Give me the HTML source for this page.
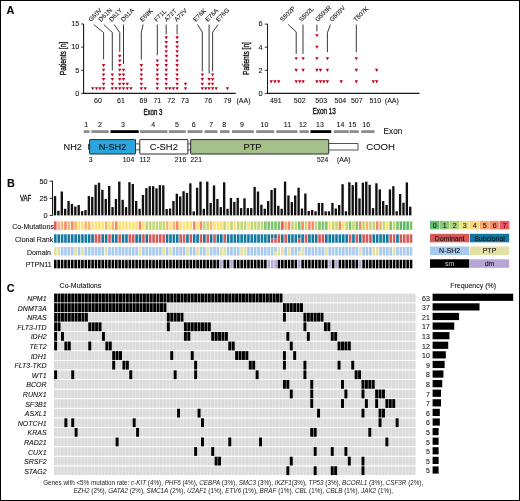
<!DOCTYPE html>
<html><head><meta charset="utf-8"><style>
html,body{margin:0;padding:0;background:#fff;}
body{width:520px;height:501px;overflow:hidden;}
svg{display:block;font-family:"Liberation Sans", sans-serif;will-change:transform;}
text{stroke:#111;stroke-width:0.08px;}
text.cd{stroke-width:0.35px;}
text.ft{stroke-width:0;fill:#222;}
</style></head><body>
<svg width="520" height="501" viewBox="0 0 520 501" fill="#111">
<rect x="0" y="0" width="520" height="501" fill="#fff"/>
<line x1="83.6" y1="23.9" x2="83.6" y2="93.9" stroke="#1a1a1a" stroke-width="1.1"/>
<line x1="83.1" y1="93.4" x2="235.8" y2="93.4" stroke="#1a1a1a" stroke-width="1.1"/>
<line x1="81.2" y1="93.4" x2="83.6" y2="93.4" stroke="#1a1a1a" stroke-width="0.9"/>
<text x="79.3" y="95.7" font-size="7.3" text-anchor="end" >0</text>
<line x1="81.2" y1="70.25" x2="83.6" y2="70.25" stroke="#1a1a1a" stroke-width="0.9"/>
<text x="79.3" y="72.55" font-size="7.3" text-anchor="end" >5</text>
<line x1="81.2" y1="47.1" x2="83.6" y2="47.1" stroke="#1a1a1a" stroke-width="0.9"/>
<text x="79.3" y="49.4" font-size="7.3" text-anchor="end" >10</text>
<line x1="81.2" y1="23.95" x2="83.6" y2="23.95" stroke="#1a1a1a" stroke-width="0.9"/>
<text x="79.3" y="26.25" font-size="7.3" text-anchor="end" >15</text>
<text transform="translate(65.6,58.5) rotate(-90)" class="cd" font-size="8.6" text-anchor="middle" textLength="33.4" lengthAdjust="spacingAndGlyphs">Patients [n]</text>
<g fill="#c8001e">
<path d="M91.05,87.27h3.4l-1.7,3.1z"/>
<path d="M94.8,87.27h3.4l-1.7,3.1z"/>
<path d="M98.4,87.27h3.4l-1.7,3.1z"/>
<path d="M101.9,87.27h3.4l-1.7,3.1z"/>
<path d="M101.9,82.64h3.4l-1.7,3.1z"/>
<path d="M101.9,78.01h3.4l-1.7,3.1z"/>
<path d="M101.9,73.38h3.4l-1.7,3.1z"/>
<path d="M101.9,68.75h3.4l-1.7,3.1z"/>
<path d="M101.9,64.12h3.4l-1.7,3.1z"/>
<path d="M110.6,87.27h3.4l-1.7,3.1z"/>
<path d="M110.6,82.64h3.4l-1.7,3.1z"/>
<path d="M110.6,78.01h3.4l-1.7,3.1z"/>
<path d="M110.6,73.38h3.4l-1.7,3.1z"/>
<path d="M114.3,87.27h3.4l-1.7,3.1z"/>
<path d="M118.05,87.27h3.4l-1.7,3.1z"/>
<path d="M118.05,82.64h3.4l-1.7,3.1z"/>
<path d="M118.05,78.01h3.4l-1.7,3.1z"/>
<path d="M118.05,73.38h3.4l-1.7,3.1z"/>
<path d="M118.05,68.75h3.4l-1.7,3.1z"/>
<path d="M118.05,64.12h3.4l-1.7,3.1z"/>
<path d="M118.05,59.49h3.4l-1.7,3.1z"/>
<path d="M118.05,54.86h3.4l-1.7,3.1z"/>
<path d="M121.8,87.27h3.4l-1.7,3.1z"/>
<path d="M121.8,82.64h3.4l-1.7,3.1z"/>
<path d="M121.8,78.01h3.4l-1.7,3.1z"/>
<path d="M121.8,73.38h3.4l-1.7,3.1z"/>
<path d="M121.8,68.75h3.4l-1.7,3.1z"/>
<path d="M125.55,87.27h3.4l-1.7,3.1z"/>
<path d="M125.55,82.64h3.4l-1.7,3.1z"/>
<path d="M129.3,87.27h3.4l-1.7,3.1z"/>
<path d="M139.6,87.27h3.4l-1.7,3.1z"/>
<path d="M139.6,82.64h3.4l-1.7,3.1z"/>
<path d="M139.6,78.01h3.4l-1.7,3.1z"/>
<path d="M139.6,73.38h3.4l-1.7,3.1z"/>
<path d="M139.6,68.75h3.4l-1.7,3.1z"/>
<path d="M139.6,64.12h3.4l-1.7,3.1z"/>
<path d="M143.5,87.27h3.4l-1.7,3.1z"/>
<path d="M155.6,87.27h3.4l-1.7,3.1z"/>
<path d="M155.6,82.64h3.4l-1.7,3.1z"/>
<path d="M155.6,78.01h3.4l-1.7,3.1z"/>
<path d="M155.6,73.38h3.4l-1.7,3.1z"/>
<path d="M155.6,68.75h3.4l-1.7,3.1z"/>
<path d="M155.6,64.12h3.4l-1.7,3.1z"/>
<path d="M155.6,59.49h3.4l-1.7,3.1z"/>
<path d="M164.5,87.27h3.4l-1.7,3.1z"/>
<path d="M164.5,82.64h3.4l-1.7,3.1z"/>
<path d="M164.5,78.01h3.4l-1.7,3.1z"/>
<path d="M164.5,73.38h3.4l-1.7,3.1z"/>
<path d="M164.5,68.75h3.4l-1.7,3.1z"/>
<path d="M164.5,64.12h3.4l-1.7,3.1z"/>
<path d="M164.5,59.49h3.4l-1.7,3.1z"/>
<path d="M164.5,54.86h3.4l-1.7,3.1z"/>
<path d="M164.5,50.23h3.4l-1.7,3.1z"/>
<path d="M164.5,45.6h3.4l-1.7,3.1z"/>
<path d="M164.5,40.97h3.4l-1.7,3.1z"/>
<path d="M164.5,36.34h3.4l-1.7,3.1z"/>
<path d="M168.1,87.27h3.4l-1.7,3.1z"/>
<path d="M171.7,87.27h3.4l-1.7,3.1z"/>
<path d="M175.4,87.27h3.4l-1.7,3.1z"/>
<path d="M175.4,82.64h3.4l-1.7,3.1z"/>
<path d="M175.4,78.01h3.4l-1.7,3.1z"/>
<path d="M175.4,73.38h3.4l-1.7,3.1z"/>
<path d="M175.4,68.75h3.4l-1.7,3.1z"/>
<path d="M175.4,64.12h3.4l-1.7,3.1z"/>
<path d="M175.4,59.49h3.4l-1.7,3.1z"/>
<path d="M175.4,54.86h3.4l-1.7,3.1z"/>
<path d="M175.4,50.23h3.4l-1.7,3.1z"/>
<path d="M175.4,45.6h3.4l-1.7,3.1z"/>
<path d="M175.4,40.97h3.4l-1.7,3.1z"/>
<path d="M175.4,36.34h3.4l-1.7,3.1z"/>
<path d="M183.8,87.27h3.4l-1.7,3.1z"/>
<path d="M183.8,82.64h3.4l-1.7,3.1z"/>
<path d="M200.6,87.27h3.4l-1.7,3.1z"/>
<path d="M200.6,82.64h3.4l-1.7,3.1z"/>
<path d="M200.6,78.01h3.4l-1.7,3.1z"/>
<path d="M200.6,73.38h3.4l-1.7,3.1z"/>
<path d="M204.1,87.27h3.4l-1.7,3.1z"/>
<path d="M207.4,87.27h3.4l-1.7,3.1z"/>
<path d="M207.4,82.64h3.4l-1.7,3.1z"/>
<path d="M207.4,78.01h3.4l-1.7,3.1z"/>
<path d="M210.9,87.27h3.4l-1.7,3.1z"/>
<path d="M210.9,82.64h3.4l-1.7,3.1z"/>
<path d="M210.9,78.01h3.4l-1.7,3.1z"/>
<path d="M210.9,73.38h3.4l-1.7,3.1z"/>
<path d="M214.5,87.27h3.4l-1.7,3.1z"/>
<path d="M225.7,87.27h3.4l-1.7,3.1z"/>
</g>
<text x="98" y="102.9" font-size="7" text-anchor="middle" >60</text>
<text x="121" y="102.9" font-size="7" text-anchor="middle" >61</text>
<text x="143.5" y="102.9" font-size="7" text-anchor="middle" >69</text>
<text x="157.3" y="102.9" font-size="7" text-anchor="middle" >71</text>
<text x="171.2" y="102.9" font-size="7" text-anchor="middle" >72</text>
<text x="185" y="102.9" font-size="7" text-anchor="middle" >73</text>
<text x="208.2" y="102.9" font-size="7" text-anchor="middle" >76</text>
<text x="227.4" y="102.9" font-size="7" text-anchor="middle" >79</text>
<text x="243.5" y="102.9" font-size="7" text-anchor="middle" >(AA)</text>
<text x="152.9" y="115.3" font-size="8.6" text-anchor="middle" class="cd" textLength="18.8" lengthAdjust="spacingAndGlyphs">Exon 3</text>
<text transform="translate(91.1,21.9) rotate(-45)" font-size="6.2">G60V</text>
<text transform="translate(101.1,21.9) rotate(-45)" font-size="6.2">D61N</text>
<text transform="translate(111.7,21.9) rotate(-45)" font-size="6.2">D61Y</text>
<text transform="translate(123.5,21.9) rotate(-45)" font-size="6.2">D61A</text>
<text transform="translate(142.4,21.9) rotate(-45)" font-size="6.2">E69K</text>
<text transform="translate(156.7,21.9) rotate(-45)" font-size="6.2">F71L</text>
<text transform="translate(166.7,21.9) rotate(-45)" font-size="6.2">A72T</text>
<text transform="translate(176.7,21.9) rotate(-45)" font-size="6.2">A72V</text>
<text transform="translate(195.7,21.9) rotate(-45)" font-size="6.2">E76K</text>
<text transform="translate(207.8,21.9) rotate(-45)" font-size="6.2">E76A</text>
<text transform="translate(218.5,21.9) rotate(-45)" font-size="6.2">E76G</text>
<text transform="translate(282.6,21.9) rotate(-45)" font-size="6.2">S502P</text>
<text transform="translate(301.6,21.9) rotate(-45)" font-size="6.2">S502L</text>
<text transform="translate(317.7,21.9) rotate(-45)" font-size="6.2">G503R</text>
<text transform="translate(332.1,21.9) rotate(-45)" font-size="6.2">G503V</text>
<text transform="translate(356.1,21.9) rotate(-45)" font-size="6.2">T507K</text>
<polyline points="93.8,24.6 103.6,32.6 103.6,59.4" fill="none" stroke="#222" stroke-width="0.9"/>
<polyline points="103.8,24.6 112.3,32.5 112.3,70.4" fill="none" stroke="#222" stroke-width="0.9"/>
<polyline points="114.2,24.6 119.75,32.5 119.75,52" fill="none" stroke="#222" stroke-width="0.9"/>
<polyline points="123.5,24.6 123.5,64" fill="none" stroke="#222" stroke-width="0.9"/>
<polyline points="143.1,24.6 141.3,32.5 141.3,59.8" fill="none" stroke="#222" stroke-width="0.9"/>
<polyline points="157.3,24.6 157.3,55.3" fill="none" stroke="#222" stroke-width="0.9"/>
<polyline points="166.2,24.6 166.2,34.4" fill="none" stroke="#222" stroke-width="0.9"/>
<polyline points="177.1,24.6 177.1,34.4" fill="none" stroke="#222" stroke-width="0.9"/>
<polyline points="197.4,24.4 202.3,32 202.3,71.4" fill="none" stroke="#222" stroke-width="0.9"/>
<polyline points="209.1,24.6 209.1,73.5" fill="none" stroke="#222" stroke-width="0.9"/>
<polyline points="218,24.6 212.6,32.3 212.6,71.4" fill="none" stroke="#222" stroke-width="0.9"/>
<line x1="267.5" y1="23.9" x2="267.5" y2="93.9" stroke="#1a1a1a" stroke-width="1"/>
<line x1="267" y1="93.4" x2="419.5" y2="93.4" stroke="#1a1a1a" stroke-width="1.1"/>
<line x1="264.8" y1="93.4" x2="267.5" y2="93.4" stroke="#1a1a1a" stroke-width="0.9"/>
<text x="262.6" y="95.7" font-size="7.3" text-anchor="end" >0</text>
<line x1="264.8" y1="70.3" x2="267.5" y2="70.3" stroke="#1a1a1a" stroke-width="0.9"/>
<text x="262.6" y="72.6" font-size="7.3" text-anchor="end" >2</text>
<line x1="264.8" y1="47.2" x2="267.5" y2="47.2" stroke="#1a1a1a" stroke-width="0.9"/>
<text x="262.6" y="49.5" font-size="7.3" text-anchor="end" >4</text>
<line x1="264.8" y1="24.1" x2="267.5" y2="24.1" stroke="#1a1a1a" stroke-width="0.9"/>
<text x="262.6" y="26.4" font-size="7.3" text-anchor="end" >6</text>
<text transform="translate(248.9,58.5) rotate(-90)" class="cd" font-size="8.6" text-anchor="middle" textLength="32.8" lengthAdjust="spacingAndGlyphs">Patients [n]</text>
<g fill="#c8001e">
<path d="M269.5,80.35h3.4l-1.7,3.1z"/>
<path d="M273.2,80.35h3.4l-1.7,3.1z"/>
<path d="M277,80.35h3.4l-1.7,3.1z"/>
<path d="M294.5,80.35h3.4l-1.7,3.1z"/>
<path d="M294.5,68.8h3.4l-1.7,3.1z"/>
<path d="M294.5,57.25h3.4l-1.7,3.1z"/>
<path d="M298,80.35h3.4l-1.7,3.1z"/>
<path d="M301.4,80.35h3.4l-1.7,3.1z"/>
<path d="M301.4,68.8h3.4l-1.7,3.1z"/>
<path d="M301.4,57.25h3.4l-1.7,3.1z"/>
<path d="M315.2,80.35h3.4l-1.7,3.1z"/>
<path d="M315.2,68.8h3.4l-1.7,3.1z"/>
<path d="M315.2,57.25h3.4l-1.7,3.1z"/>
<path d="M315.2,45.7h3.4l-1.7,3.1z"/>
<path d="M315.2,34.15h3.4l-1.7,3.1z"/>
<path d="M318.8,80.35h3.4l-1.7,3.1z"/>
<path d="M318.8,68.8h3.4l-1.7,3.1z"/>
<path d="M322.2,80.35h3.4l-1.7,3.1z"/>
<path d="M325.7,80.35h3.4l-1.7,3.1z"/>
<path d="M325.7,68.8h3.4l-1.7,3.1z"/>
<path d="M325.7,57.25h3.4l-1.7,3.1z"/>
<path d="M339.5,80.35h3.4l-1.7,3.1z"/>
<path d="M354.6,80.35h3.4l-1.7,3.1z"/>
<path d="M354.6,68.8h3.4l-1.7,3.1z"/>
<path d="M354.6,57.25h3.4l-1.7,3.1z"/>
<path d="M371.6,80.35h3.4l-1.7,3.1z"/>
<path d="M375,80.35h3.4l-1.7,3.1z"/>
<path d="M375,68.8h3.4l-1.7,3.1z"/>
</g>
<text x="275.8" y="102.9" font-size="7" text-anchor="middle" >491</text>
<text x="299.7" y="102.9" font-size="7" text-anchor="middle" >502</text>
<text x="321.2" y="102.9" font-size="7" text-anchor="middle" >503</text>
<text x="340.4" y="102.9" font-size="7" text-anchor="middle" >504</text>
<text x="356.8" y="102.9" font-size="7" text-anchor="middle" >507</text>
<text x="375.3" y="102.9" font-size="7" text-anchor="middle" >510</text>
<text x="391.8" y="102.9" font-size="7" text-anchor="middle" >(AA)</text>
<text x="324.2" y="114" font-size="8.6" text-anchor="middle" class="cd" textLength="23.5" lengthAdjust="spacingAndGlyphs">Exon 13</text>
<polyline points="288.1,24.4 296.2,31.9 296.2,53.9" fill="none" stroke="#222" stroke-width="0.9"/>
<polyline points="303,24.6 303,53.9" fill="none" stroke="#222" stroke-width="0.9"/>
<polyline points="316.9,24.6 316.9,31.3" fill="none" stroke="#222" stroke-width="0.9"/>
<polyline points="330.4,24.6 327.4,32.7 327.4,52.3" fill="none" stroke="#222" stroke-width="0.9"/>
<polyline points="356.3,24.6 356.3,52.3" fill="none" stroke="#222" stroke-width="0.9"/>
<text x="6.6" y="14" font-size="10.8" text-anchor="start" font-weight="bold" fill="#000" style="stroke:#000" >A</text>
<rect x="83.75" y="130.2" width="5.75" height="2.8" fill="#8c8c8c" />
<rect x="91.25" y="130.2" width="17.5" height="2.8" fill="#8c8c8c" />
<rect x="110.5" y="130.2" width="28.25" height="2.8" fill="#000" />
<rect x="140" y="130.2" width="27.5" height="2.8" fill="#8c8c8c" />
<rect x="168.75" y="130.2" width="17" height="2.8" fill="#8c8c8c" />
<rect x="187.5" y="130.2" width="15" height="2.8" fill="#8c8c8c" />
<rect x="204.5" y="130.2" width="13" height="2.8" fill="#8c8c8c" />
<rect x="220" y="130.2" width="9.5" height="2.8" fill="#8c8c8c" />
<rect x="232" y="130.2" width="21.75" height="2.8" fill="#8c8c8c" />
<rect x="256.25" y="130.2" width="18" height="2.8" fill="#8c8c8c" />
<rect x="276.25" y="130.2" width="21.25" height="2.8" fill="#8c8c8c" />
<rect x="299.5" y="130.2" width="9.25" height="2.8" fill="#8c8c8c" />
<rect x="310.5" y="130.2" width="20.75" height="2.8" fill="#000" />
<rect x="333.75" y="130.2" width="15" height="2.8" fill="#8c8c8c" />
<rect x="349.5" y="130.2" width="9.25" height="2.8" fill="#8c8c8c" />
<rect x="361.25" y="130.2" width="13.25" height="2.8" fill="#8c8c8c" />
<text x="86.25" y="127.3" font-size="7" text-anchor="middle" >1</text>
<text x="100" y="127.3" font-size="7" text-anchor="middle" >2</text>
<text x="123" y="127.3" font-size="7" text-anchor="middle" >3</text>
<text x="153.25" y="127.3" font-size="7" text-anchor="middle" >4</text>
<text x="177" y="127.3" font-size="7" text-anchor="middle" >5</text>
<text x="193.75" y="127.3" font-size="7" text-anchor="middle" >6</text>
<text x="211.25" y="127.3" font-size="7" text-anchor="middle" >7</text>
<text x="224.25" y="127.3" font-size="7" text-anchor="middle" >8</text>
<text x="242" y="127.3" font-size="7" text-anchor="middle" >9</text>
<text x="264.5" y="127.3" font-size="7" text-anchor="middle" >10</text>
<text x="287.5" y="127.3" font-size="7" text-anchor="middle" >11</text>
<text x="303" y="127.3" font-size="7" text-anchor="middle" >12</text>
<text x="320" y="127.3" font-size="7" text-anchor="middle" >13</text>
<text x="340.5" y="127.3" font-size="7" text-anchor="middle" >14</text>
<text x="352.5" y="127.3" font-size="7" text-anchor="middle" >15</text>
<text x="366.25" y="127.3" font-size="7" text-anchor="middle" >16</text>
<text x="383.6" y="134.1" font-size="8.2" text-anchor="start" >Exon</text>
<g fill="#fff" stroke="#2a2a2a" stroke-width="0.8">
<rect x="135" y="143.9" width="5" height="6" />
<rect x="187.5" y="143.9" width="3.5" height="6" />
<rect x="328.3" y="143.6" width="29.7" height="6.4" />
</g>
<rect x="88.1" y="143.9" width="1.6" height="5.9" fill="#3a3a3a"/>
<rect x="89.6" y="139.6" width="45.9" height="14.4" rx="0.4" fill="#2aa6df" stroke="#2a2a2a" stroke-width="1"/>
<rect x="139.8" y="139.6" width="48.1" height="14.4" rx="0.4" fill="#fff" stroke="#2a2a2a" stroke-width="1"/>
<rect x="190.7" y="139.6" width="138" height="14.4" rx="0.4" fill="#a4c08a" stroke="#2a2a2a" stroke-width="1"/>
<text x="112.5" y="150.1" font-size="9.2" text-anchor="middle" >N-SH2</text>
<text x="163.8" y="150.2" font-size="9.4" text-anchor="middle" >C-SH2</text>
<text x="252.5" y="150.3" font-size="9.4" text-anchor="middle" >PTP</text>
<text x="72.8" y="150.3" font-size="9.2" text-anchor="middle" >NH2</text>
<text x="380.6" y="150.3" font-size="9.6" text-anchor="middle" >COOH</text>
<text x="88.8" y="162" font-size="6.8" text-anchor="start" >3</text>
<text x="134.2" y="162" font-size="6.8" text-anchor="end" >104</text>
<text x="139.6" y="162" font-size="6.8" text-anchor="start" >112</text>
<text x="186.2" y="162" font-size="6.8" text-anchor="end" >216</text>
<text x="190.6" y="162" font-size="6.8" text-anchor="start" >221</text>
<text x="328.4" y="162" font-size="6.8" text-anchor="end" >524</text>
<text x="343.75" y="162" font-size="6.8" text-anchor="middle" >(AA)</text>
<text x="7" y="186.8" font-size="10.8" text-anchor="start" font-weight="bold" fill="#000" style="stroke:#000" >B</text>
<text x="25.5" y="201.1" font-size="8.6" text-anchor="middle" class="cd" textLength="11.2" lengthAdjust="spacingAndGlyphs">VAF</text>
<line x1="52.5" y1="180.7" x2="52.5" y2="215.9" stroke="#1a1a1a" stroke-width="1"/>
<line x1="49.6" y1="181.2" x2="52.5" y2="181.2" stroke="#1a1a1a" stroke-width="0.9"/>
<text x="47.6" y="183.8" font-size="7.3" text-anchor="end" >50</text>
<line x1="49.6" y1="198.3" x2="52.5" y2="198.3" stroke="#1a1a1a" stroke-width="0.9"/>
<text x="47.6" y="200.9" font-size="7.3" text-anchor="end" >25</text>
<line x1="49.6" y1="215.4" x2="52.5" y2="215.4" stroke="#1a1a1a" stroke-width="0.9"/>
<text x="47.6" y="218" font-size="7.3" text-anchor="end" >0</text>
<g fill="#111">
<rect x="53.85" y="196.1" width="2.35" height="19.3" fill="#111" />
<rect x="57.23" y="210.8" width="2.35" height="4.6" fill="#111" />
<rect x="60.62" y="191.5" width="2.35" height="23.9" fill="#111" />
<rect x="64" y="208.8" width="2.35" height="6.6" fill="#111" />
<rect x="67.38" y="201" width="2.35" height="14.4" fill="#111" />
<rect x="70.77" y="203.9" width="2.35" height="11.5" fill="#111" />
<rect x="74.15" y="206.5" width="2.35" height="8.9" fill="#111" />
<rect x="77.53" y="205" width="2.35" height="10.4" fill="#111" />
<rect x="80.91" y="211.1" width="2.35" height="4.3" fill="#111" />
<rect x="84.3" y="210" width="2.35" height="5.4" fill="#111" />
<rect x="87.68" y="196.1" width="2.35" height="19.3" fill="#111" />
<rect x="91.06" y="196.9" width="2.35" height="18.5" fill="#111" />
<rect x="94.45" y="184.8" width="2.35" height="30.6" fill="#111" />
<rect x="97.83" y="182.7" width="2.35" height="32.7" fill="#111" />
<rect x="101.21" y="189.8" width="2.35" height="25.6" fill="#111" />
<rect x="104.59" y="198.9" width="2.35" height="16.5" fill="#111" />
<rect x="107.98" y="186" width="2.35" height="29.4" fill="#111" />
<rect x="111.36" y="207.1" width="2.35" height="8.3" fill="#111" />
<rect x="114.74" y="199" width="2.35" height="16.4" fill="#111" />
<rect x="118.13" y="181.6" width="2.35" height="33.8" fill="#111" />
<rect x="121.51" y="199.8" width="2.35" height="15.6" fill="#111" />
<rect x="124.89" y="207.1" width="2.35" height="8.3" fill="#111" />
<rect x="128.28" y="182.2" width="2.35" height="33.2" fill="#111" />
<rect x="131.66" y="184" width="2.35" height="31.4" fill="#111" />
<rect x="135.04" y="201" width="2.35" height="14.4" fill="#111" />
<rect x="138.43" y="208.8" width="2.35" height="6.6" fill="#111" />
<rect x="141.81" y="195" width="2.35" height="20.4" fill="#111" />
<rect x="145.19" y="188.1" width="2.35" height="27.3" fill="#111" />
<rect x="148.57" y="186.2" width="2.35" height="29.2" fill="#111" />
<rect x="151.96" y="186.2" width="2.35" height="29.2" fill="#111" />
<rect x="155.34" y="188.3" width="2.35" height="27.1" fill="#111" />
<rect x="158.72" y="185.1" width="2.35" height="30.3" fill="#111" />
<rect x="162.11" y="185.4" width="2.35" height="30" fill="#111" />
<rect x="165.49" y="209" width="2.35" height="6.4" fill="#111" />
<rect x="168.87" y="208.5" width="2.35" height="6.9" fill="#111" />
<rect x="172.25" y="201" width="2.35" height="14.4" fill="#111" />
<rect x="175.64" y="193.7" width="2.35" height="21.7" fill="#111" />
<rect x="179.02" y="196.4" width="2.35" height="19" fill="#111" />
<rect x="182.4" y="191.2" width="2.35" height="24.2" fill="#111" />
<rect x="185.79" y="192.9" width="2.35" height="22.5" fill="#111" />
<rect x="189.17" y="183.3" width="2.35" height="32.1" fill="#111" />
<rect x="192.55" y="211.4" width="2.35" height="4" fill="#111" />
<rect x="195.94" y="187.7" width="2.35" height="27.7" fill="#111" />
<rect x="199.32" y="181.6" width="2.35" height="33.8" fill="#111" />
<rect x="202.7" y="208.8" width="2.35" height="6.6" fill="#111" />
<rect x="206.09" y="181.6" width="2.35" height="33.8" fill="#111" />
<rect x="209.47" y="203" width="2.35" height="12.4" fill="#111" />
<rect x="212.85" y="185.4" width="2.35" height="30" fill="#111" />
<rect x="216.23" y="199" width="2.35" height="16.4" fill="#111" />
<rect x="219.62" y="207.1" width="2.35" height="8.3" fill="#111" />
<rect x="223" y="182.3" width="2.35" height="33.1" fill="#111" />
<rect x="226.38" y="208.8" width="2.35" height="6.6" fill="#111" />
<rect x="229.77" y="197.9" width="2.35" height="17.5" fill="#111" />
<rect x="233.15" y="201.9" width="2.35" height="13.5" fill="#111" />
<rect x="236.53" y="197.9" width="2.35" height="17.5" fill="#111" />
<rect x="239.91" y="208.1" width="2.35" height="7.3" fill="#111" />
<rect x="243.3" y="198.3" width="2.35" height="17.1" fill="#111" />
<rect x="246.68" y="208.1" width="2.35" height="7.3" fill="#111" />
<rect x="250.06" y="208.1" width="2.35" height="7.3" fill="#111" />
<rect x="253.45" y="186.9" width="2.35" height="28.5" fill="#111" />
<rect x="256.83" y="191.5" width="2.35" height="23.9" fill="#111" />
<rect x="260.21" y="204.7" width="2.35" height="10.7" fill="#111" />
<rect x="263.6" y="208.7" width="2.35" height="6.7" fill="#111" />
<rect x="266.98" y="201" width="2.35" height="14.4" fill="#111" />
<rect x="270.36" y="190" width="2.35" height="25.4" fill="#111" />
<rect x="273.75" y="188.1" width="2.35" height="27.3" fill="#111" />
<rect x="277.13" y="205.8" width="2.35" height="9.6" fill="#111" />
<rect x="280.51" y="208.8" width="2.35" height="6.6" fill="#111" />
<rect x="283.89" y="181.6" width="2.35" height="33.8" fill="#111" />
<rect x="287.28" y="195.5" width="2.35" height="19.9" fill="#111" />
<rect x="290.66" y="202.1" width="2.35" height="13.3" fill="#111" />
<rect x="294.04" y="195.5" width="2.35" height="19.9" fill="#111" />
<rect x="297.43" y="187.7" width="2.35" height="27.7" fill="#111" />
<rect x="300.81" y="208.5" width="2.35" height="6.9" fill="#111" />
<rect x="304.19" y="193.5" width="2.35" height="21.9" fill="#111" />
<rect x="307.57" y="211" width="2.35" height="4.4" fill="#111" />
<rect x="310.96" y="210" width="2.35" height="5.4" fill="#111" />
<rect x="314.34" y="211.3" width="2.35" height="4.1" fill="#111" />
<rect x="317.72" y="202.9" width="2.35" height="12.5" fill="#111" />
<rect x="321.11" y="202.9" width="2.35" height="12.5" fill="#111" />
<rect x="324.49" y="211.3" width="2.35" height="4.1" fill="#111" />
<rect x="327.87" y="211.3" width="2.35" height="4.1" fill="#111" />
<rect x="331.26" y="202.9" width="2.35" height="12.5" fill="#111" />
<rect x="334.64" y="208.5" width="2.35" height="6.9" fill="#111" />
<rect x="338.02" y="205" width="2.35" height="10.4" fill="#111" />
<rect x="341.41" y="184.2" width="2.35" height="31.2" fill="#111" />
<rect x="344.79" y="211.3" width="2.35" height="4.1" fill="#111" />
<rect x="348.17" y="182.3" width="2.35" height="33.1" fill="#111" />
<rect x="351.55" y="185.1" width="2.35" height="30.3" fill="#111" />
<rect x="354.94" y="182.3" width="2.35" height="33.1" fill="#111" />
<rect x="358.32" y="198.4" width="2.35" height="17" fill="#111" />
<rect x="361.7" y="182.7" width="2.35" height="32.7" fill="#111" />
<rect x="365.09" y="181.6" width="2.35" height="33.8" fill="#111" />
<rect x="368.47" y="184.8" width="2.35" height="30.6" fill="#111" />
<rect x="371.85" y="208.1" width="2.35" height="7.3" fill="#111" />
<rect x="375.24" y="183.3" width="2.35" height="32.1" fill="#111" />
<rect x="378.62" y="189.4" width="2.35" height="26" fill="#111" />
<rect x="382" y="201" width="2.35" height="14.4" fill="#111" />
<rect x="385.38" y="205" width="2.35" height="10.4" fill="#111" />
<rect x="388.77" y="189.4" width="2.35" height="26" fill="#111" />
<rect x="392.15" y="186.2" width="2.35" height="29.2" fill="#111" />
<rect x="395.53" y="211.3" width="2.35" height="4.1" fill="#111" />
<rect x="398.92" y="194" width="2.35" height="21.4" fill="#111" />
<rect x="402.3" y="202.7" width="2.35" height="12.7" fill="#111" />
<rect x="405.68" y="182.4" width="2.35" height="33" fill="#111" />
<rect x="409.06" y="206.7" width="2.35" height="8.7" fill="#111" />
</g>
<rect x="54" y="221.4" width="2.6" height="8.5" fill="#ee5660" />
<rect x="54" y="234.3" width="2.6" height="8.5" fill="#13789f" />
<rect x="54" y="247" width="2.6" height="8.5" fill="#e1e0a5" />
<rect x="54" y="259.8" width="2.6" height="8.5" fill="#000" />
<rect x="57.39" y="221.4" width="2.6" height="8.5" fill="#fbb46f" />
<rect x="57.39" y="234.3" width="2.6" height="8.5" fill="#13789f" />
<rect x="57.39" y="247" width="2.6" height="8.5" fill="#e1e0a5" />
<rect x="57.39" y="259.8" width="2.6" height="8.5" fill="#000" />
<rect x="60.78" y="221.4" width="2.6" height="8.5" fill="#fbb46f" />
<rect x="60.78" y="234.3" width="2.6" height="8.5" fill="#13789f" />
<rect x="60.78" y="247" width="2.6" height="8.5" fill="#a7c9ee" />
<rect x="60.78" y="259.8" width="2.6" height="8.5" fill="#000" />
<rect x="64.16" y="221.4" width="2.6" height="8.5" fill="#f58a6b" />
<rect x="64.16" y="234.3" width="2.6" height="8.5" fill="#13789f" />
<rect x="64.16" y="247" width="2.6" height="8.5" fill="#a7c9ee" />
<rect x="64.16" y="259.8" width="2.6" height="8.5" fill="#000" />
<rect x="67.55" y="221.4" width="2.6" height="8.5" fill="#fbb46f" />
<rect x="67.55" y="234.3" width="2.6" height="8.5" fill="#13789f" />
<rect x="67.55" y="247" width="2.6" height="8.5" fill="#a7c9ee" />
<rect x="67.55" y="259.8" width="2.6" height="8.5" fill="#000" />
<rect x="70.94" y="221.4" width="2.6" height="8.5" fill="#f58a6b" />
<rect x="70.94" y="234.3" width="2.6" height="8.5" fill="#13789f" />
<rect x="70.94" y="247" width="2.6" height="8.5" fill="#a7c9ee" />
<rect x="70.94" y="259.8" width="2.6" height="8.5" fill="#000" />
<rect x="74.33" y="221.4" width="2.6" height="8.5" fill="#fbb46f" />
<rect x="74.33" y="234.3" width="2.6" height="8.5" fill="#13789f" />
<rect x="74.33" y="247" width="2.6" height="8.5" fill="#e1e0a5" />
<rect x="74.33" y="259.8" width="2.6" height="8.5" fill="#000" />
<rect x="77.72" y="221.4" width="2.6" height="8.5" fill="#fde275" />
<rect x="77.72" y="234.3" width="2.6" height="8.5" fill="#13789f" />
<rect x="77.72" y="247" width="2.6" height="8.5" fill="#a7c9ee" />
<rect x="77.72" y="259.8" width="2.6" height="8.5" fill="#000" />
<rect x="81.1" y="221.4" width="2.6" height="8.5" fill="#fde275" />
<rect x="81.1" y="234.3" width="2.6" height="8.5" fill="#13789f" />
<rect x="81.1" y="247" width="2.6" height="8.5" fill="#e1e0a5" />
<rect x="81.1" y="259.8" width="2.6" height="8.5" fill="#000" />
<rect x="84.49" y="221.4" width="2.6" height="8.5" fill="#fbb46f" />
<rect x="84.49" y="234.3" width="2.6" height="8.5" fill="#13789f" />
<rect x="84.49" y="247" width="2.6" height="8.5" fill="#a7c9ee" />
<rect x="84.49" y="259.8" width="2.6" height="8.5" fill="#000" />
<rect x="87.88" y="221.4" width="2.6" height="8.5" fill="#fbb46f" />
<rect x="87.88" y="234.3" width="2.6" height="8.5" fill="#13789f" />
<rect x="87.88" y="247" width="2.6" height="8.5" fill="#a7c9ee" />
<rect x="87.88" y="259.8" width="2.6" height="8.5" fill="#000" />
<rect x="91.27" y="221.4" width="2.6" height="8.5" fill="#fde275" />
<rect x="91.27" y="234.3" width="2.6" height="8.5" fill="#13789f" />
<rect x="91.27" y="247" width="2.6" height="8.5" fill="#a7c9ee" />
<rect x="91.27" y="259.8" width="2.6" height="8.5" fill="#000" />
<rect x="94.66" y="221.4" width="2.6" height="8.5" fill="#fde275" />
<rect x="94.66" y="234.3" width="2.6" height="8.5" fill="#d65a58" />
<rect x="94.66" y="247" width="2.6" height="8.5" fill="#a7c9ee" />
<rect x="94.66" y="259.8" width="2.6" height="8.5" fill="#000" />
<rect x="98.04" y="221.4" width="2.6" height="8.5" fill="#fde275" />
<rect x="98.04" y="234.3" width="2.6" height="8.5" fill="#d65a58" />
<rect x="98.04" y="247" width="2.6" height="8.5" fill="#a7c9ee" />
<rect x="98.04" y="259.8" width="2.6" height="8.5" fill="#000" />
<rect x="101.43" y="221.4" width="2.6" height="8.5" fill="#fde275" />
<rect x="101.43" y="234.3" width="2.6" height="8.5" fill="#13789f" />
<rect x="101.43" y="247" width="2.6" height="8.5" fill="#a7c9ee" />
<rect x="101.43" y="259.8" width="2.6" height="8.5" fill="#000" />
<rect x="104.82" y="221.4" width="2.6" height="8.5" fill="#fbb46f" />
<rect x="104.82" y="234.3" width="2.6" height="8.5" fill="#13789f" />
<rect x="104.82" y="247" width="2.6" height="8.5" fill="#e1e0a5" />
<rect x="104.82" y="259.8" width="2.6" height="8.5" fill="#000" />
<rect x="108.21" y="221.4" width="2.6" height="8.5" fill="#fde275" />
<rect x="108.21" y="234.3" width="2.6" height="8.5" fill="#d65a58" />
<rect x="108.21" y="247" width="2.6" height="8.5" fill="#a7c9ee" />
<rect x="108.21" y="259.8" width="2.6" height="8.5" fill="#000" />
<rect x="111.6" y="221.4" width="2.6" height="8.5" fill="#fbb46f" />
<rect x="111.6" y="234.3" width="2.6" height="8.5" fill="#13789f" />
<rect x="111.6" y="247" width="2.6" height="8.5" fill="#a7c9ee" />
<rect x="111.6" y="259.8" width="2.6" height="8.5" fill="#000" />
<rect x="114.98" y="221.4" width="2.6" height="8.5" fill="#f58a6b" />
<rect x="114.98" y="234.3" width="2.6" height="8.5" fill="#13789f" />
<rect x="114.98" y="247" width="2.6" height="8.5" fill="#a7c9ee" />
<rect x="114.98" y="259.8" width="2.6" height="8.5" fill="#000" />
<rect x="118.37" y="221.4" width="2.6" height="8.5" fill="#fde275" />
<rect x="118.37" y="234.3" width="2.6" height="8.5" fill="#d65a58" />
<rect x="118.37" y="247" width="2.6" height="8.5" fill="#a7c9ee" />
<rect x="118.37" y="259.8" width="2.6" height="8.5" fill="#000" />
<rect x="121.76" y="221.4" width="2.6" height="8.5" fill="#fde275" />
<rect x="121.76" y="234.3" width="2.6" height="8.5" fill="#13789f" />
<rect x="121.76" y="247" width="2.6" height="8.5" fill="#a7c9ee" />
<rect x="121.76" y="259.8" width="2.6" height="8.5" fill="#000" />
<rect x="125.15" y="221.4" width="2.6" height="8.5" fill="#fde275" />
<rect x="125.15" y="234.3" width="2.6" height="8.5" fill="#13789f" />
<rect x="125.15" y="247" width="2.6" height="8.5" fill="#a7c9ee" />
<rect x="125.15" y="259.8" width="2.6" height="8.5" fill="#000" />
<rect x="128.54" y="221.4" width="2.6" height="8.5" fill="#fde275" />
<rect x="128.54" y="234.3" width="2.6" height="8.5" fill="#d65a58" />
<rect x="128.54" y="247" width="2.6" height="8.5" fill="#a7c9ee" />
<rect x="128.54" y="259.8" width="2.6" height="8.5" fill="#000" />
<rect x="131.92" y="221.4" width="2.6" height="8.5" fill="#fde275" />
<rect x="131.92" y="234.3" width="2.6" height="8.5" fill="#d65a58" />
<rect x="131.92" y="247" width="2.6" height="8.5" fill="#a7c9ee" />
<rect x="131.92" y="259.8" width="2.6" height="8.5" fill="#000" />
<rect x="135.31" y="221.4" width="2.6" height="8.5" fill="#fde275" />
<rect x="135.31" y="234.3" width="2.6" height="8.5" fill="#13789f" />
<rect x="135.31" y="247" width="2.6" height="8.5" fill="#a7c9ee" />
<rect x="135.31" y="259.8" width="2.6" height="8.5" fill="#000" />
<rect x="138.7" y="221.4" width="2.6" height="8.5" fill="#f58a6b" />
<rect x="138.7" y="234.3" width="2.6" height="8.5" fill="#13789f" />
<rect x="138.7" y="247" width="2.6" height="8.5" fill="#e1e0a5" />
<rect x="138.7" y="259.8" width="2.6" height="8.5" fill="#000" />
<rect x="142.09" y="221.4" width="2.6" height="8.5" fill="#fde275" />
<rect x="142.09" y="234.3" width="2.6" height="8.5" fill="#d65a58" />
<rect x="142.09" y="247" width="2.6" height="8.5" fill="#a7c9ee" />
<rect x="142.09" y="259.8" width="2.6" height="8.5" fill="#000" />
<rect x="145.48" y="221.4" width="2.6" height="8.5" fill="#c3d774" />
<rect x="145.48" y="234.3" width="2.6" height="8.5" fill="#13789f" />
<rect x="145.48" y="247" width="2.6" height="8.5" fill="#a7c9ee" />
<rect x="145.48" y="259.8" width="2.6" height="8.5" fill="#000" />
<rect x="148.86" y="221.4" width="2.6" height="8.5" fill="#c3d774" />
<rect x="148.86" y="234.3" width="2.6" height="8.5" fill="#d65a58" />
<rect x="148.86" y="247" width="2.6" height="8.5" fill="#a7c9ee" />
<rect x="148.86" y="259.8" width="2.6" height="8.5" fill="#000" />
<rect x="152.25" y="221.4" width="2.6" height="8.5" fill="#c3d774" />
<rect x="152.25" y="234.3" width="2.6" height="8.5" fill="#d65a58" />
<rect x="152.25" y="247" width="2.6" height="8.5" fill="#a7c9ee" />
<rect x="152.25" y="259.8" width="2.6" height="8.5" fill="#000" />
<rect x="155.64" y="221.4" width="2.6" height="8.5" fill="#c3d774" />
<rect x="155.64" y="234.3" width="2.6" height="8.5" fill="#d65a58" />
<rect x="155.64" y="247" width="2.6" height="8.5" fill="#a7c9ee" />
<rect x="155.64" y="259.8" width="2.6" height="8.5" fill="#000" />
<rect x="159.03" y="221.4" width="2.6" height="8.5" fill="#c3d774" />
<rect x="159.03" y="234.3" width="2.6" height="8.5" fill="#d65a58" />
<rect x="159.03" y="247" width="2.6" height="8.5" fill="#a7c9ee" />
<rect x="159.03" y="259.8" width="2.6" height="8.5" fill="#000" />
<rect x="162.42" y="221.4" width="2.6" height="8.5" fill="#c3d774" />
<rect x="162.42" y="234.3" width="2.6" height="8.5" fill="#d65a58" />
<rect x="162.42" y="247" width="2.6" height="8.5" fill="#e1e0a5" />
<rect x="162.42" y="259.8" width="2.6" height="8.5" fill="#000" />
<rect x="165.8" y="221.4" width="2.6" height="8.5" fill="#fbb46f" />
<rect x="165.8" y="234.3" width="2.6" height="8.5" fill="#13789f" />
<rect x="165.8" y="247" width="2.6" height="8.5" fill="#a7c9ee" />
<rect x="165.8" y="259.8" width="2.6" height="8.5" fill="#000" />
<rect x="169.19" y="221.4" width="2.6" height="8.5" fill="#fde275" />
<rect x="169.19" y="234.3" width="2.6" height="8.5" fill="#13789f" />
<rect x="169.19" y="247" width="2.6" height="8.5" fill="#e1e0a5" />
<rect x="169.19" y="259.8" width="2.6" height="8.5" fill="#000" />
<rect x="172.58" y="221.4" width="2.6" height="8.5" fill="#fbb46f" />
<rect x="172.58" y="234.3" width="2.6" height="8.5" fill="#13789f" />
<rect x="172.58" y="247" width="2.6" height="8.5" fill="#a7c9ee" />
<rect x="172.58" y="259.8" width="2.6" height="8.5" fill="#000" />
<rect x="175.97" y="221.4" width="2.6" height="8.5" fill="#f58a6b" />
<rect x="175.97" y="234.3" width="2.6" height="8.5" fill="#13789f" />
<rect x="175.97" y="247" width="2.6" height="8.5" fill="#a7c9ee" />
<rect x="175.97" y="259.8" width="2.6" height="8.5" fill="#000" />
<rect x="179.36" y="221.4" width="2.6" height="8.5" fill="#fde275" />
<rect x="179.36" y="234.3" width="2.6" height="8.5" fill="#d65a58" />
<rect x="179.36" y="247" width="2.6" height="8.5" fill="#a7c9ee" />
<rect x="179.36" y="259.8" width="2.6" height="8.5" fill="#000" />
<rect x="182.74" y="221.4" width="2.6" height="8.5" fill="#fde275" />
<rect x="182.74" y="234.3" width="2.6" height="8.5" fill="#d65a58" />
<rect x="182.74" y="247" width="2.6" height="8.5" fill="#a7c9ee" />
<rect x="182.74" y="259.8" width="2.6" height="8.5" fill="#000" />
<rect x="186.13" y="221.4" width="2.6" height="8.5" fill="#fde275" />
<rect x="186.13" y="234.3" width="2.6" height="8.5" fill="#13789f" />
<rect x="186.13" y="247" width="2.6" height="8.5" fill="#e1e0a5" />
<rect x="186.13" y="259.8" width="2.6" height="8.5" fill="#000" />
<rect x="189.52" y="221.4" width="2.6" height="8.5" fill="#fde275" />
<rect x="189.52" y="234.3" width="2.6" height="8.5" fill="#d65a58" />
<rect x="189.52" y="247" width="2.6" height="8.5" fill="#a7c9ee" />
<rect x="189.52" y="259.8" width="2.6" height="8.5" fill="#000" />
<rect x="192.91" y="221.4" width="2.6" height="8.5" fill="#f58a6b" />
<rect x="192.91" y="234.3" width="2.6" height="8.5" fill="#13789f" />
<rect x="192.91" y="247" width="2.6" height="8.5" fill="#a7c9ee" />
<rect x="192.91" y="259.8" width="2.6" height="8.5" fill="#000" />
<rect x="196.3" y="221.4" width="2.6" height="8.5" fill="#fde275" />
<rect x="196.3" y="234.3" width="2.6" height="8.5" fill="#13789f" />
<rect x="196.3" y="247" width="2.6" height="8.5" fill="#e1e0a5" />
<rect x="196.3" y="259.8" width="2.6" height="8.5" fill="#000" />
<rect x="199.68" y="221.4" width="2.6" height="8.5" fill="#f58a6b" />
<rect x="199.68" y="234.3" width="2.6" height="8.5" fill="#d65a58" />
<rect x="199.68" y="247" width="2.6" height="8.5" fill="#a7c9ee" />
<rect x="199.68" y="259.8" width="2.6" height="8.5" fill="#000" />
<rect x="203.07" y="221.4" width="2.6" height="8.5" fill="#c3d774" />
<rect x="203.07" y="234.3" width="2.6" height="8.5" fill="#13789f" />
<rect x="203.07" y="247" width="2.6" height="8.5" fill="#a7c9ee" />
<rect x="203.07" y="259.8" width="2.6" height="8.5" fill="#000" />
<rect x="206.46" y="221.4" width="2.6" height="8.5" fill="#c3d774" />
<rect x="206.46" y="234.3" width="2.6" height="8.5" fill="#d65a58" />
<rect x="206.46" y="247" width="2.6" height="8.5" fill="#e1e0a5" />
<rect x="206.46" y="259.8" width="2.6" height="8.5" fill="#000" />
<rect x="209.85" y="221.4" width="2.6" height="8.5" fill="#fbb46f" />
<rect x="209.85" y="234.3" width="2.6" height="8.5" fill="#13789f" />
<rect x="209.85" y="247" width="2.6" height="8.5" fill="#a7c9ee" />
<rect x="209.85" y="259.8" width="2.6" height="8.5" fill="#000" />
<rect x="213.24" y="221.4" width="2.6" height="8.5" fill="#fde275" />
<rect x="213.24" y="234.3" width="2.6" height="8.5" fill="#d65a58" />
<rect x="213.24" y="247" width="2.6" height="8.5" fill="#a7c9ee" />
<rect x="213.24" y="259.8" width="2.6" height="8.5" fill="#000" />
<rect x="216.62" y="221.4" width="2.6" height="8.5" fill="#fde275" />
<rect x="216.62" y="234.3" width="2.6" height="8.5" fill="#13789f" />
<rect x="216.62" y="247" width="2.6" height="8.5" fill="#a7c9ee" />
<rect x="216.62" y="259.8" width="2.6" height="8.5" fill="#000" />
<rect x="220.01" y="221.4" width="2.6" height="8.5" fill="#fde275" />
<rect x="220.01" y="234.3" width="2.6" height="8.5" fill="#13789f" />
<rect x="220.01" y="247" width="2.6" height="8.5" fill="#e1e0a5" />
<rect x="220.01" y="259.8" width="2.6" height="8.5" fill="#b6a5d5" />
<rect x="223.4" y="221.4" width="2.6" height="8.5" fill="#c3d774" />
<rect x="223.4" y="234.3" width="2.6" height="8.5" fill="#d65a58" />
<rect x="223.4" y="247" width="2.6" height="8.5" fill="#e1e0a5" />
<rect x="223.4" y="259.8" width="2.6" height="8.5" fill="#000" />
<rect x="226.79" y="221.4" width="2.6" height="8.5" fill="#fde275" />
<rect x="226.79" y="234.3" width="2.6" height="8.5" fill="#13789f" />
<rect x="226.79" y="247" width="2.6" height="8.5" fill="#a7c9ee" />
<rect x="226.79" y="259.8" width="2.6" height="8.5" fill="#000" />
<rect x="230.18" y="221.4" width="2.6" height="8.5" fill="#c3d774" />
<rect x="230.18" y="234.3" width="2.6" height="8.5" fill="#13789f" />
<rect x="230.18" y="247" width="2.6" height="8.5" fill="#a7c9ee" />
<rect x="230.18" y="259.8" width="2.6" height="8.5" fill="#b6a5d5" />
<rect x="233.56" y="221.4" width="2.6" height="8.5" fill="#fde275" />
<rect x="233.56" y="234.3" width="2.6" height="8.5" fill="#13789f" />
<rect x="233.56" y="247" width="2.6" height="8.5" fill="#a7c9ee" />
<rect x="233.56" y="259.8" width="2.6" height="8.5" fill="#000" />
<rect x="236.95" y="221.4" width="2.6" height="8.5" fill="#c3d774" />
<rect x="236.95" y="234.3" width="2.6" height="8.5" fill="#13789f" />
<rect x="236.95" y="247" width="2.6" height="8.5" fill="#a7c9ee" />
<rect x="236.95" y="259.8" width="2.6" height="8.5" fill="#000" />
<rect x="240.34" y="221.4" width="2.6" height="8.5" fill="#c3d774" />
<rect x="240.34" y="234.3" width="2.6" height="8.5" fill="#13789f" />
<rect x="240.34" y="247" width="2.6" height="8.5" fill="#e1e0a5" />
<rect x="240.34" y="259.8" width="2.6" height="8.5" fill="#000" />
<rect x="243.73" y="221.4" width="2.6" height="8.5" fill="#c3d774" />
<rect x="243.73" y="234.3" width="2.6" height="8.5" fill="#13789f" />
<rect x="243.73" y="247" width="2.6" height="8.5" fill="#e1e0a5" />
<rect x="243.73" y="259.8" width="2.6" height="8.5" fill="#000" />
<rect x="247.12" y="221.4" width="2.6" height="8.5" fill="#fde275" />
<rect x="247.12" y="234.3" width="2.6" height="8.5" fill="#13789f" />
<rect x="247.12" y="247" width="2.6" height="8.5" fill="#a7c9ee" />
<rect x="247.12" y="259.8" width="2.6" height="8.5" fill="#000" />
<rect x="250.5" y="221.4" width="2.6" height="8.5" fill="#c3d774" />
<rect x="250.5" y="234.3" width="2.6" height="8.5" fill="#13789f" />
<rect x="250.5" y="247" width="2.6" height="8.5" fill="#a7c9ee" />
<rect x="250.5" y="259.8" width="2.6" height="8.5" fill="#000" />
<rect x="253.89" y="221.4" width="2.6" height="8.5" fill="#c3d774" />
<rect x="253.89" y="234.3" width="2.6" height="8.5" fill="#13789f" />
<rect x="253.89" y="247" width="2.6" height="8.5" fill="#a7c9ee" />
<rect x="253.89" y="259.8" width="2.6" height="8.5" fill="#000" />
<rect x="257.28" y="221.4" width="2.6" height="8.5" fill="#c3d774" />
<rect x="257.28" y="234.3" width="2.6" height="8.5" fill="#13789f" />
<rect x="257.28" y="247" width="2.6" height="8.5" fill="#a7c9ee" />
<rect x="257.28" y="259.8" width="2.6" height="8.5" fill="#000" />
<rect x="260.67" y="221.4" width="2.6" height="8.5" fill="#c3d774" />
<rect x="260.67" y="234.3" width="2.6" height="8.5" fill="#13789f" />
<rect x="260.67" y="247" width="2.6" height="8.5" fill="#a7c9ee" />
<rect x="260.67" y="259.8" width="2.6" height="8.5" fill="#000" />
<rect x="264.06" y="221.4" width="2.6" height="8.5" fill="#7ec46b" />
<rect x="264.06" y="234.3" width="2.6" height="8.5" fill="#13789f" />
<rect x="264.06" y="247" width="2.6" height="8.5" fill="#a7c9ee" />
<rect x="264.06" y="259.8" width="2.6" height="8.5" fill="#000" />
<rect x="267.44" y="221.4" width="2.6" height="8.5" fill="#7ec46b" />
<rect x="267.44" y="234.3" width="2.6" height="8.5" fill="#13789f" />
<rect x="267.44" y="247" width="2.6" height="8.5" fill="#a7c9ee" />
<rect x="267.44" y="259.8" width="2.6" height="8.5" fill="#b6a5d5" />
<rect x="270.83" y="221.4" width="2.6" height="8.5" fill="#7ec46b" />
<rect x="270.83" y="234.3" width="2.6" height="4.25" fill="#13789f" />
<rect x="270.83" y="238.55" width="2.6" height="4.25" fill="#d65a58" />
<rect x="270.83" y="247" width="2.6" height="8.5" fill="#a7c9ee" />
<rect x="270.83" y="259.8" width="2.6" height="8.5" fill="#b6a5d5" />
<rect x="274.22" y="221.4" width="2.6" height="8.5" fill="#7ec46b" />
<rect x="274.22" y="234.3" width="2.6" height="4.25" fill="#13789f" />
<rect x="274.22" y="238.55" width="2.6" height="4.25" fill="#d65a58" />
<rect x="274.22" y="247" width="2.6" height="4.25" fill="#a7c9ee" />
<rect x="274.22" y="251.25" width="2.6" height="4.25" fill="#e1e0a5" />
<rect x="274.22" y="259.8" width="2.6" height="8.5" fill="#b6a5d5" />
<rect x="277.61" y="221.4" width="2.6" height="8.5" fill="#7ec46b" />
<rect x="277.61" y="234.3" width="2.6" height="8.5" fill="#d65a58" />
<rect x="277.61" y="247" width="2.6" height="8.5" fill="#e1e0a5" />
<rect x="277.61" y="259.8" width="2.6" height="8.5" fill="#000" />
<rect x="281" y="221.4" width="2.6" height="8.5" fill="#ee5660" />
<rect x="281" y="234.3" width="2.6" height="8.5" fill="#13789f" />
<rect x="281" y="247" width="2.6" height="8.5" fill="#e1e0a5" />
<rect x="281" y="259.8" width="2.6" height="8.5" fill="#000" />
<rect x="284.38" y="221.4" width="2.6" height="8.5" fill="#fbb46f" />
<rect x="284.38" y="234.3" width="2.6" height="8.5" fill="#d65a58" />
<rect x="284.38" y="247" width="2.6" height="8.5" fill="#a7c9ee" />
<rect x="284.38" y="259.8" width="2.6" height="8.5" fill="#000" />
<rect x="287.77" y="221.4" width="2.6" height="8.5" fill="#f58a6b" />
<rect x="287.77" y="234.3" width="2.6" height="8.5" fill="#13789f" />
<rect x="287.77" y="247" width="2.6" height="8.5" fill="#e1e0a5" />
<rect x="287.77" y="259.8" width="2.6" height="8.5" fill="#000" />
<rect x="291.16" y="221.4" width="2.6" height="8.5" fill="#c3d774" />
<rect x="291.16" y="234.3" width="2.6" height="8.5" fill="#13789f" />
<rect x="291.16" y="247" width="2.6" height="8.5" fill="#a7c9ee" />
<rect x="291.16" y="259.8" width="2.6" height="8.5" fill="#000" />
<rect x="294.55" y="221.4" width="2.6" height="8.5" fill="#c3d774" />
<rect x="294.55" y="234.3" width="2.6" height="8.5" fill="#13789f" />
<rect x="294.55" y="247" width="2.6" height="8.5" fill="#a7c9ee" />
<rect x="294.55" y="259.8" width="2.6" height="8.5" fill="#000" />
<rect x="297.94" y="221.4" width="2.6" height="8.5" fill="#7ec46b" />
<rect x="297.94" y="234.3" width="2.6" height="4.25" fill="#13789f" />
<rect x="297.94" y="238.55" width="2.6" height="4.25" fill="#d65a58" />
<rect x="297.94" y="247" width="2.6" height="4.25" fill="#a7c9ee" />
<rect x="297.94" y="251.25" width="2.6" height="4.25" fill="#e1e0a5" />
<rect x="297.94" y="259.8" width="2.6" height="8.5" fill="#b6a5d5" />
<rect x="301.32" y="221.4" width="2.6" height="8.5" fill="#f58a6b" />
<rect x="301.32" y="234.3" width="2.6" height="8.5" fill="#13789f" />
<rect x="301.32" y="247" width="2.6" height="8.5" fill="#e1e0a5" />
<rect x="301.32" y="259.8" width="2.6" height="8.5" fill="#000" />
<rect x="304.71" y="221.4" width="2.6" height="8.5" fill="#c3d774" />
<rect x="304.71" y="234.3" width="2.6" height="8.5" fill="#d65a58" />
<rect x="304.71" y="247" width="2.6" height="8.5" fill="#a7c9ee" />
<rect x="304.71" y="259.8" width="2.6" height="8.5" fill="#000" />
<rect x="308.1" y="221.4" width="2.6" height="8.5" fill="#f58a6b" />
<rect x="308.1" y="234.3" width="2.6" height="8.5" fill="#13789f" />
<rect x="308.1" y="247" width="2.6" height="8.5" fill="#a7c9ee" />
<rect x="308.1" y="259.8" width="2.6" height="8.5" fill="#000" />
<rect x="311.49" y="221.4" width="2.6" height="8.5" fill="#f58a6b" />
<rect x="311.49" y="234.3" width="2.6" height="8.5" fill="#13789f" />
<rect x="311.49" y="247" width="2.6" height="8.5" fill="#a7c9ee" />
<rect x="311.49" y="259.8" width="2.6" height="8.5" fill="#000" />
<rect x="314.88" y="221.4" width="2.6" height="8.5" fill="#c3d774" />
<rect x="314.88" y="234.3" width="2.6" height="8.5" fill="#13789f" />
<rect x="314.88" y="247" width="2.6" height="8.5" fill="#a7c9ee" />
<rect x="314.88" y="259.8" width="2.6" height="8.5" fill="#000" />
<rect x="318.26" y="221.4" width="2.6" height="8.5" fill="#7ec46b" />
<rect x="318.26" y="234.3" width="2.6" height="8.5" fill="#d65a58" />
<rect x="318.26" y="247" width="2.6" height="8.5" fill="#a7c9ee" />
<rect x="318.26" y="259.8" width="2.6" height="8.5" fill="#000" />
<rect x="321.65" y="221.4" width="2.6" height="8.5" fill="#7ec46b" />
<rect x="321.65" y="234.3" width="2.6" height="8.5" fill="#d65a58" />
<rect x="321.65" y="247" width="2.6" height="8.5" fill="#a7c9ee" />
<rect x="321.65" y="259.8" width="2.6" height="8.5" fill="#000" />
<rect x="325.04" y="221.4" width="2.6" height="8.5" fill="#7ec46b" />
<rect x="325.04" y="234.3" width="2.6" height="8.5" fill="#13789f" />
<rect x="325.04" y="247" width="2.6" height="8.5" fill="#e1e0a5" />
<rect x="325.04" y="259.8" width="2.6" height="8.5" fill="#000" />
<rect x="328.43" y="221.4" width="2.6" height="8.5" fill="#fde275" />
<rect x="328.43" y="234.3" width="2.6" height="8.5" fill="#13789f" />
<rect x="328.43" y="247" width="2.6" height="8.5" fill="#a7c9ee" />
<rect x="328.43" y="259.8" width="2.6" height="8.5" fill="#b6a5d5" />
<rect x="331.82" y="221.4" width="2.6" height="8.5" fill="#c3d774" />
<rect x="331.82" y="234.3" width="2.6" height="8.5" fill="#13789f" />
<rect x="331.82" y="247" width="2.6" height="8.5" fill="#a7c9ee" />
<rect x="331.82" y="259.8" width="2.6" height="8.5" fill="#000" />
<rect x="335.2" y="221.4" width="2.6" height="8.5" fill="#c3d774" />
<rect x="335.2" y="234.3" width="2.6" height="8.5" fill="#13789f" />
<rect x="335.2" y="247" width="2.6" height="8.5" fill="#a7c9ee" />
<rect x="335.2" y="259.8" width="2.6" height="8.5" fill="#b6a5d5" />
<rect x="338.59" y="221.4" width="2.6" height="8.5" fill="#f58a6b" />
<rect x="338.59" y="234.3" width="2.6" height="8.5" fill="#13789f" />
<rect x="338.59" y="247" width="2.6" height="8.5" fill="#a7c9ee" />
<rect x="338.59" y="259.8" width="2.6" height="8.5" fill="#000" />
<rect x="341.98" y="221.4" width="2.6" height="8.5" fill="#fde275" />
<rect x="341.98" y="234.3" width="2.6" height="8.5" fill="#13789f" />
<rect x="341.98" y="247" width="2.6" height="8.5" fill="#a7c9ee" />
<rect x="341.98" y="259.8" width="2.6" height="8.5" fill="#000" />
<rect x="345.37" y="221.4" width="2.6" height="8.5" fill="#c3d774" />
<rect x="345.37" y="234.3" width="2.6" height="8.5" fill="#13789f" />
<rect x="345.37" y="247" width="2.6" height="8.5" fill="#a7c9ee" />
<rect x="345.37" y="259.8" width="2.6" height="8.5" fill="#000" />
<rect x="348.76" y="221.4" width="2.6" height="8.5" fill="#7ec46b" />
<rect x="348.76" y="234.3" width="2.6" height="8.5" fill="#d65a58" />
<rect x="348.76" y="247" width="2.6" height="8.5" fill="#a7c9ee" />
<rect x="348.76" y="259.8" width="2.6" height="8.5" fill="#000" />
<rect x="352.14" y="221.4" width="2.6" height="8.5" fill="#c3d774" />
<rect x="352.14" y="234.3" width="2.6" height="8.5" fill="#13789f" />
<rect x="352.14" y="247" width="2.6" height="8.5" fill="#a7c9ee" />
<rect x="352.14" y="259.8" width="2.6" height="8.5" fill="#000" />
<rect x="355.53" y="221.4" width="2.6" height="8.5" fill="#7ec46b" />
<rect x="355.53" y="234.3" width="2.6" height="8.5" fill="#d65a58" />
<rect x="355.53" y="247" width="2.6" height="8.5" fill="#a7c9ee" />
<rect x="355.53" y="259.8" width="2.6" height="8.5" fill="#000" />
<rect x="358.92" y="221.4" width="2.6" height="8.5" fill="#f58a6b" />
<rect x="358.92" y="234.3" width="2.6" height="8.5" fill="#13789f" />
<rect x="358.92" y="247" width="2.6" height="8.5" fill="#e1e0a5" />
<rect x="358.92" y="259.8" width="2.6" height="8.5" fill="#b6a5d5" />
<rect x="362.31" y="221.4" width="2.6" height="8.5" fill="#c3d774" />
<rect x="362.31" y="234.3" width="2.6" height="8.5" fill="#d65a58" />
<rect x="362.31" y="247" width="2.6" height="8.5" fill="#a7c9ee" />
<rect x="362.31" y="259.8" width="2.6" height="8.5" fill="#000" />
<rect x="365.7" y="221.4" width="2.6" height="8.5" fill="#fbb46f" />
<rect x="365.7" y="234.3" width="2.6" height="8.5" fill="#d65a58" />
<rect x="365.7" y="247" width="2.6" height="8.5" fill="#a7c9ee" />
<rect x="365.7" y="259.8" width="2.6" height="8.5" fill="#000" />
<rect x="369.08" y="221.4" width="2.6" height="8.5" fill="#c3d774" />
<rect x="369.08" y="234.3" width="2.6" height="8.5" fill="#d65a58" />
<rect x="369.08" y="247" width="2.6" height="8.5" fill="#a7c9ee" />
<rect x="369.08" y="259.8" width="2.6" height="8.5" fill="#000" />
<rect x="372.47" y="221.4" width="2.6" height="8.5" fill="#c3d774" />
<rect x="372.47" y="234.3" width="2.6" height="8.5" fill="#13789f" />
<rect x="372.47" y="247" width="2.6" height="8.5" fill="#e1e0a5" />
<rect x="372.47" y="259.8" width="2.6" height="8.5" fill="#000" />
<rect x="375.86" y="221.4" width="2.6" height="8.5" fill="#f58a6b" />
<rect x="375.86" y="234.3" width="2.6" height="8.5" fill="#13789f" />
<rect x="375.86" y="247" width="2.6" height="8.5" fill="#e1e0a5" />
<rect x="375.86" y="259.8" width="2.6" height="8.5" fill="#000" />
<rect x="379.25" y="221.4" width="2.6" height="8.5" fill="#fbb46f" />
<rect x="379.25" y="234.3" width="2.6" height="8.5" fill="#13789f" />
<rect x="379.25" y="247" width="2.6" height="8.5" fill="#a7c9ee" />
<rect x="379.25" y="259.8" width="2.6" height="8.5" fill="#000" />
<rect x="382.64" y="221.4" width="2.6" height="8.5" fill="#c3d774" />
<rect x="382.64" y="234.3" width="2.6" height="8.5" fill="#13789f" />
<rect x="382.64" y="247" width="2.6" height="8.5" fill="#a7c9ee" />
<rect x="382.64" y="259.8" width="2.6" height="8.5" fill="#000" />
<rect x="386.02" y="221.4" width="2.6" height="8.5" fill="#fde275" />
<rect x="386.02" y="234.3" width="2.6" height="8.5" fill="#13789f" />
<rect x="386.02" y="247" width="2.6" height="8.5" fill="#a7c9ee" />
<rect x="386.02" y="259.8" width="2.6" height="8.5" fill="#000" />
<rect x="389.41" y="221.4" width="2.6" height="8.5" fill="#7ec46b" />
<rect x="389.41" y="234.3" width="2.6" height="8.5" fill="#d65a58" />
<rect x="389.41" y="247" width="2.6" height="8.5" fill="#a7c9ee" />
<rect x="389.41" y="259.8" width="2.6" height="8.5" fill="#000" />
<rect x="392.8" y="221.4" width="2.6" height="8.5" fill="#c3d774" />
<rect x="392.8" y="234.3" width="2.6" height="8.5" fill="#d65a58" />
<rect x="392.8" y="247" width="2.6" height="8.5" fill="#e1e0a5" />
<rect x="392.8" y="259.8" width="2.6" height="8.5" fill="#000" />
<rect x="396.19" y="221.4" width="2.6" height="8.5" fill="#7ec46b" />
<rect x="396.19" y="234.3" width="2.6" height="8.5" fill="#13789f" />
<rect x="396.19" y="247" width="2.6" height="8.5" fill="#a7c9ee" />
<rect x="396.19" y="259.8" width="2.6" height="8.5" fill="#000" />
<rect x="399.58" y="221.4" width="2.6" height="8.5" fill="#5fb865" />
<rect x="399.58" y="234.3" width="2.6" height="8.5" fill="#d65a58" />
<rect x="399.58" y="247" width="2.6" height="8.5" fill="#a7c9ee" />
<rect x="399.58" y="259.8" width="2.6" height="8.5" fill="#000" />
<rect x="402.96" y="221.4" width="2.6" height="8.5" fill="#5fb865" />
<rect x="402.96" y="234.3" width="2.6" height="8.5" fill="#d65a58" />
<rect x="402.96" y="247" width="2.6" height="8.5" fill="#a7c9ee" />
<rect x="402.96" y="259.8" width="2.6" height="8.5" fill="#000" />
<rect x="406.35" y="221.4" width="2.6" height="8.5" fill="#5fb865" />
<rect x="406.35" y="234.3" width="2.6" height="8.5" fill="#d65a58" />
<rect x="406.35" y="247" width="2.6" height="8.5" fill="#a7c9ee" />
<rect x="406.35" y="259.8" width="2.6" height="8.5" fill="#000" />
<rect x="409.74" y="221.4" width="2.6" height="8.5" fill="#7ec46b" />
<rect x="409.74" y="234.3" width="2.6" height="8.5" fill="#d65a58" />
<rect x="409.74" y="247" width="2.6" height="8.5" fill="#a7c9ee" />
<rect x="409.74" y="259.8" width="2.6" height="8.5" fill="#000" />
<text x="53.9" y="229.05" font-size="7" text-anchor="end" >Co-Mutations</text>
<text x="53.2" y="241.95" font-size="7" text-anchor="end" >Clonal Rank</text>
<text x="51" y="254.65" font-size="7" text-anchor="end" >Domain</text>
<text x="51.6" y="267.45" font-size="7" text-anchor="end" >PTPN11</text>
<rect x="430" y="220.9" width="9.45" height="8.5" fill="#64ba6e" />
<text x="434.72" y="227.75" font-size="7" text-anchor="middle" >0</text>
<rect x="439.98" y="220.9" width="9.45" height="8.5" fill="#8ec87a" />
<text x="444.7" y="227.75" font-size="7" text-anchor="middle" >1</text>
<rect x="449.96" y="220.9" width="9.45" height="8.5" fill="#b5d37d" />
<text x="454.68" y="227.75" font-size="7" text-anchor="middle" >2</text>
<rect x="459.94" y="220.9" width="9.45" height="8.5" fill="#ebe482" />
<text x="464.66" y="227.75" font-size="7" text-anchor="middle" >3</text>
<rect x="469.92" y="220.9" width="9.45" height="8.5" fill="#fdd384" />
<text x="474.64" y="227.75" font-size="7" text-anchor="middle" >4</text>
<rect x="479.9" y="220.9" width="9.45" height="8.5" fill="#f9a870" />
<text x="484.62" y="227.75" font-size="7" text-anchor="middle" >5</text>
<rect x="489.88" y="220.9" width="9.45" height="8.5" fill="#f58a6e" />
<text x="494.6" y="227.75" font-size="7" text-anchor="middle" >6</text>
<rect x="499.86" y="220.9" width="9.45" height="8.5" fill="#ef5560" />
<text x="504.58" y="227.75" font-size="7" text-anchor="middle" >7</text>
<rect x="430" y="233.8" width="39.3" height="8.5" fill="#d65a58" />
<rect x="469.9" y="233.8" width="39.3" height="8.5" fill="#13789f" />
<text x="449.6" y="240.65" font-size="7" text-anchor="middle" >Dominant</text>
<text x="489.5" y="240.65" font-size="7" text-anchor="middle" >Subclonal</text>
<rect x="430" y="246.5" width="39.3" height="8.5" fill="#a7c9ee" />
<rect x="469.9" y="246.5" width="39.3" height="8.5" fill="#e1e0a5" />
<text x="449.6" y="253.35" font-size="7" text-anchor="middle" >N-SH2</text>
<text x="489.5" y="253.35" font-size="7" text-anchor="middle" >PTP</text>
<rect x="430" y="259.3" width="39.3" height="8.5" fill="#000" />
<rect x="469.9" y="259.3" width="39.3" height="8.5" fill="#b6a5d5" />
<text x="449.6" y="266.15" font-size="7" text-anchor="middle" fill="#bbb" style="stroke:#bbb" >sm</text>
<text x="489.5" y="266.15" font-size="7" text-anchor="middle" >dm</text>
<text x="6.8" y="292.2" font-size="10.8" text-anchor="start" font-weight="bold" fill="#000" style="stroke:#000" >C</text>
<text x="59.6" y="288.1" font-size="7" text-anchor="start" >Co-Mutations</text>
<text x="473.1" y="287.9" font-size="7" text-anchor="middle" >Frequency (%)</text>
<rect x="54" y="293.6" width="361.53" height="8.8" fill="#dcdbdb" />
<rect x="54" y="303.19" width="361.53" height="8.8" fill="#dcdbdb" />
<rect x="54" y="312.79" width="361.53" height="8.8" fill="#dcdbdb" />
<rect x="54" y="322.38" width="361.53" height="8.8" fill="#dcdbdb" />
<rect x="54" y="331.98" width="361.53" height="8.8" fill="#dcdbdb" />
<rect x="54" y="341.57" width="361.53" height="8.8" fill="#dcdbdb" />
<rect x="54" y="351.16" width="361.53" height="8.8" fill="#dcdbdb" />
<rect x="54" y="360.76" width="361.53" height="8.8" fill="#dcdbdb" />
<rect x="54" y="370.35" width="361.53" height="8.8" fill="#dcdbdb" />
<rect x="54" y="379.95" width="361.53" height="8.8" fill="#dcdbdb" />
<rect x="54" y="389.54" width="361.53" height="8.8" fill="#dcdbdb" />
<rect x="54" y="399.13" width="361.53" height="8.8" fill="#dcdbdb" />
<rect x="54" y="408.73" width="361.53" height="8.8" fill="#dcdbdb" />
<rect x="54" y="418.32" width="361.53" height="8.8" fill="#dcdbdb" />
<rect x="54" y="427.92" width="361.53" height="8.8" fill="#dcdbdb" />
<rect x="54" y="437.51" width="361.53" height="8.8" fill="#dcdbdb" />
<rect x="54" y="447.1" width="361.53" height="8.8" fill="#dcdbdb" />
<rect x="54" y="456.7" width="361.53" height="8.8" fill="#dcdbdb" />
<rect x="54" y="466.29" width="361.53" height="8.8" fill="#dcdbdb" />
<g fill="#f4f4f4">
<rect x="56.95" y="293.6" width="0.46" height="181.49"/>
<rect x="60.36" y="293.6" width="0.46" height="181.49"/>
<rect x="63.78" y="293.6" width="0.46" height="181.49"/>
<rect x="67.19" y="293.6" width="0.46" height="181.49"/>
<rect x="70.61" y="293.6" width="0.46" height="181.49"/>
<rect x="74.03" y="293.6" width="0.46" height="181.49"/>
<rect x="77.44" y="293.6" width="0.46" height="181.49"/>
<rect x="80.85" y="293.6" width="0.46" height="181.49"/>
<rect x="84.27" y="293.6" width="0.46" height="181.49"/>
<rect x="87.69" y="293.6" width="0.46" height="181.49"/>
<rect x="91.1" y="293.6" width="0.46" height="181.49"/>
<rect x="94.52" y="293.6" width="0.46" height="181.49"/>
<rect x="97.93" y="293.6" width="0.46" height="181.49"/>
<rect x="101.34" y="293.6" width="0.46" height="181.49"/>
<rect x="104.76" y="293.6" width="0.46" height="181.49"/>
<rect x="108.17" y="293.6" width="0.46" height="181.49"/>
<rect x="111.59" y="293.6" width="0.46" height="181.49"/>
<rect x="115" y="293.6" width="0.46" height="181.49"/>
<rect x="118.42" y="293.6" width="0.46" height="181.49"/>
<rect x="121.83" y="293.6" width="0.46" height="181.49"/>
<rect x="125.25" y="293.6" width="0.46" height="181.49"/>
<rect x="128.66" y="293.6" width="0.46" height="181.49"/>
<rect x="132.08" y="293.6" width="0.46" height="181.49"/>
<rect x="135.5" y="293.6" width="0.46" height="181.49"/>
<rect x="138.91" y="293.6" width="0.46" height="181.49"/>
<rect x="142.33" y="293.6" width="0.46" height="181.49"/>
<rect x="145.74" y="293.6" width="0.46" height="181.49"/>
<rect x="149.16" y="293.6" width="0.46" height="181.49"/>
<rect x="152.57" y="293.6" width="0.46" height="181.49"/>
<rect x="155.98" y="293.6" width="0.46" height="181.49"/>
<rect x="159.4" y="293.6" width="0.46" height="181.49"/>
<rect x="162.81" y="293.6" width="0.46" height="181.49"/>
<rect x="166.23" y="293.6" width="0.46" height="181.49"/>
<rect x="169.65" y="293.6" width="0.46" height="181.49"/>
<rect x="173.06" y="293.6" width="0.46" height="181.49"/>
<rect x="176.47" y="293.6" width="0.46" height="181.49"/>
<rect x="179.89" y="293.6" width="0.46" height="181.49"/>
<rect x="183.31" y="293.6" width="0.46" height="181.49"/>
<rect x="186.72" y="293.6" width="0.46" height="181.49"/>
<rect x="190.13" y="293.6" width="0.46" height="181.49"/>
<rect x="193.55" y="293.6" width="0.46" height="181.49"/>
<rect x="196.97" y="293.6" width="0.46" height="181.49"/>
<rect x="200.38" y="293.6" width="0.46" height="181.49"/>
<rect x="203.79" y="293.6" width="0.46" height="181.49"/>
<rect x="207.21" y="293.6" width="0.46" height="181.49"/>
<rect x="210.62" y="293.6" width="0.46" height="181.49"/>
<rect x="214.04" y="293.6" width="0.46" height="181.49"/>
<rect x="217.46" y="293.6" width="0.46" height="181.49"/>
<rect x="220.87" y="293.6" width="0.46" height="181.49"/>
<rect x="224.28" y="293.6" width="0.46" height="181.49"/>
<rect x="227.7" y="293.6" width="0.46" height="181.49"/>
<rect x="231.12" y="293.6" width="0.46" height="181.49"/>
<rect x="234.53" y="293.6" width="0.46" height="181.49"/>
<rect x="237.94" y="293.6" width="0.46" height="181.49"/>
<rect x="241.36" y="293.6" width="0.46" height="181.49"/>
<rect x="244.78" y="293.6" width="0.46" height="181.49"/>
<rect x="248.19" y="293.6" width="0.46" height="181.49"/>
<rect x="251.6" y="293.6" width="0.46" height="181.49"/>
<rect x="255.02" y="293.6" width="0.46" height="181.49"/>
<rect x="258.44" y="293.6" width="0.46" height="181.49"/>
<rect x="261.85" y="293.6" width="0.46" height="181.49"/>
<rect x="265.27" y="293.6" width="0.46" height="181.49"/>
<rect x="268.68" y="293.6" width="0.46" height="181.49"/>
<rect x="272.1" y="293.6" width="0.46" height="181.49"/>
<rect x="275.51" y="293.6" width="0.46" height="181.49"/>
<rect x="278.93" y="293.6" width="0.46" height="181.49"/>
<rect x="282.34" y="293.6" width="0.46" height="181.49"/>
<rect x="285.76" y="293.6" width="0.46" height="181.49"/>
<rect x="289.17" y="293.6" width="0.46" height="181.49"/>
<rect x="292.59" y="293.6" width="0.46" height="181.49"/>
<rect x="296" y="293.6" width="0.46" height="181.49"/>
<rect x="299.42" y="293.6" width="0.46" height="181.49"/>
<rect x="302.83" y="293.6" width="0.46" height="181.49"/>
<rect x="306.25" y="293.6" width="0.46" height="181.49"/>
<rect x="309.66" y="293.6" width="0.46" height="181.49"/>
<rect x="313.08" y="293.6" width="0.46" height="181.49"/>
<rect x="316.49" y="293.6" width="0.46" height="181.49"/>
<rect x="319.91" y="293.6" width="0.46" height="181.49"/>
<rect x="323.32" y="293.6" width="0.46" height="181.49"/>
<rect x="326.74" y="293.6" width="0.46" height="181.49"/>
<rect x="330.15" y="293.6" width="0.46" height="181.49"/>
<rect x="333.57" y="293.6" width="0.46" height="181.49"/>
<rect x="336.98" y="293.6" width="0.46" height="181.49"/>
<rect x="340.4" y="293.6" width="0.46" height="181.49"/>
<rect x="343.81" y="293.6" width="0.46" height="181.49"/>
<rect x="347.23" y="293.6" width="0.46" height="181.49"/>
<rect x="350.64" y="293.6" width="0.46" height="181.49"/>
<rect x="354.06" y="293.6" width="0.46" height="181.49"/>
<rect x="357.47" y="293.6" width="0.46" height="181.49"/>
<rect x="360.89" y="293.6" width="0.46" height="181.49"/>
<rect x="364.3" y="293.6" width="0.46" height="181.49"/>
<rect x="367.72" y="293.6" width="0.46" height="181.49"/>
<rect x="371.13" y="293.6" width="0.46" height="181.49"/>
<rect x="374.55" y="293.6" width="0.46" height="181.49"/>
<rect x="377.96" y="293.6" width="0.46" height="181.49"/>
<rect x="381.38" y="293.6" width="0.46" height="181.49"/>
<rect x="384.79" y="293.6" width="0.46" height="181.49"/>
<rect x="388.21" y="293.6" width="0.46" height="181.49"/>
<rect x="391.62" y="293.6" width="0.46" height="181.49"/>
<rect x="395.04" y="293.6" width="0.46" height="181.49"/>
<rect x="398.45" y="293.6" width="0.46" height="181.49"/>
<rect x="401.87" y="293.6" width="0.46" height="181.49"/>
<rect x="405.28" y="293.6" width="0.46" height="181.49"/>
<rect x="408.7" y="293.6" width="0.46" height="181.49"/>
<rect x="412.11" y="293.6" width="0.46" height="181.49"/>
</g>
<g fill="#fff">
<rect x="54" y="302.4" width="361.99" height="0.79"/>
<rect x="54" y="311.99" width="361.99" height="0.79"/>
<rect x="54" y="321.59" width="361.99" height="0.79"/>
<rect x="54" y="331.18" width="361.99" height="0.79"/>
<rect x="54" y="340.78" width="361.99" height="0.79"/>
<rect x="54" y="350.37" width="361.99" height="0.79"/>
<rect x="54" y="359.96" width="361.99" height="0.79"/>
<rect x="54" y="369.56" width="361.99" height="0.79"/>
<rect x="54" y="379.15" width="361.99" height="0.79"/>
<rect x="54" y="388.75" width="361.99" height="0.79"/>
<rect x="54" y="398.34" width="361.99" height="0.79"/>
<rect x="54" y="407.93" width="361.99" height="0.79"/>
<rect x="54" y="417.53" width="361.99" height="0.79"/>
<rect x="54" y="427.12" width="361.99" height="0.79"/>
<rect x="54" y="436.72" width="361.99" height="0.79"/>
<rect x="54" y="446.31" width="361.99" height="0.79"/>
<rect x="54" y="455.9" width="361.99" height="0.79"/>
<rect x="54" y="465.5" width="361.99" height="0.79"/>
</g>
<g fill="#000">
<rect x="54.15" y="293.6" width="2.95" height="8.8"/>
<rect x="57.56" y="293.6" width="2.95" height="8.8"/>
<rect x="60.98" y="293.6" width="2.95" height="8.8"/>
<rect x="64.4" y="293.6" width="2.95" height="8.8"/>
<rect x="67.81" y="293.6" width="2.95" height="8.8"/>
<rect x="71.23" y="293.6" width="2.95" height="8.8"/>
<rect x="74.64" y="293.6" width="2.95" height="8.8"/>
<rect x="78.06" y="293.6" width="2.95" height="8.8"/>
<rect x="81.47" y="293.6" width="2.95" height="8.8"/>
<rect x="84.89" y="293.6" width="2.95" height="8.8"/>
<rect x="88.3" y="293.6" width="2.95" height="8.8"/>
<rect x="91.72" y="293.6" width="2.95" height="8.8"/>
<rect x="95.13" y="293.6" width="2.95" height="8.8"/>
<rect x="98.55" y="293.6" width="2.95" height="8.8"/>
<rect x="101.96" y="293.6" width="2.95" height="8.8"/>
<rect x="105.38" y="293.6" width="2.95" height="8.8"/>
<rect x="108.79" y="293.6" width="2.95" height="8.8"/>
<rect x="112.21" y="293.6" width="2.95" height="8.8"/>
<rect x="115.62" y="293.6" width="2.95" height="8.8"/>
<rect x="119.04" y="293.6" width="2.95" height="8.8"/>
<rect x="122.45" y="293.6" width="2.95" height="8.8"/>
<rect x="125.87" y="293.6" width="2.95" height="8.8"/>
<rect x="129.28" y="293.6" width="2.95" height="8.8"/>
<rect x="132.7" y="293.6" width="2.95" height="8.8"/>
<rect x="136.11" y="293.6" width="2.95" height="8.8"/>
<rect x="139.53" y="293.6" width="2.95" height="8.8"/>
<rect x="142.94" y="293.6" width="2.95" height="8.8"/>
<rect x="146.35" y="293.6" width="2.95" height="8.8"/>
<rect x="149.77" y="293.6" width="2.95" height="8.8"/>
<rect x="153.19" y="293.6" width="2.95" height="8.8"/>
<rect x="156.6" y="293.6" width="2.95" height="8.8"/>
<rect x="160.02" y="293.6" width="2.95" height="8.8"/>
<rect x="163.43" y="293.6" width="2.95" height="8.8"/>
<rect x="166.84" y="293.6" width="2.95" height="8.8"/>
<rect x="170.26" y="293.6" width="2.95" height="8.8"/>
<rect x="173.68" y="293.6" width="2.95" height="8.8"/>
<rect x="177.09" y="293.6" width="2.95" height="8.8"/>
<rect x="180.51" y="293.6" width="2.95" height="8.8"/>
<rect x="183.92" y="293.6" width="2.95" height="8.8"/>
<rect x="187.34" y="293.6" width="2.95" height="8.8"/>
<rect x="190.75" y="293.6" width="2.95" height="8.8"/>
<rect x="194.17" y="293.6" width="2.95" height="8.8"/>
<rect x="197.58" y="293.6" width="2.95" height="8.8"/>
<rect x="201" y="293.6" width="2.95" height="8.8"/>
<rect x="204.41" y="293.6" width="2.95" height="8.8"/>
<rect x="207.83" y="293.6" width="2.95" height="8.8"/>
<rect x="211.24" y="293.6" width="2.95" height="8.8"/>
<rect x="214.66" y="293.6" width="2.95" height="8.8"/>
<rect x="218.07" y="293.6" width="2.95" height="8.8"/>
<rect x="221.49" y="293.6" width="2.95" height="8.8"/>
<rect x="224.9" y="293.6" width="2.95" height="8.8"/>
<rect x="228.31" y="293.6" width="2.95" height="8.8"/>
<rect x="231.73" y="293.6" width="2.95" height="8.8"/>
<rect x="235.15" y="293.6" width="2.95" height="8.8"/>
<rect x="238.56" y="293.6" width="2.95" height="8.8"/>
<rect x="241.97" y="293.6" width="2.95" height="8.8"/>
<rect x="245.39" y="293.6" width="2.95" height="8.8"/>
<rect x="248.81" y="293.6" width="2.95" height="8.8"/>
<rect x="252.22" y="293.6" width="2.95" height="8.8"/>
<rect x="255.64" y="293.6" width="2.95" height="8.8"/>
<rect x="259.05" y="293.6" width="2.95" height="8.8"/>
<rect x="262.46" y="293.6" width="2.95" height="8.8"/>
<rect x="265.88" y="293.6" width="2.95" height="8.8"/>
<rect x="269.29" y="293.6" width="2.95" height="8.8"/>
<rect x="272.71" y="293.6" width="2.95" height="8.8"/>
<rect x="276.12" y="293.6" width="2.95" height="8.8"/>
<rect x="279.54" y="293.6" width="2.95" height="8.8"/>
<rect x="54.15" y="303.19" width="2.95" height="8.8"/>
<rect x="57.56" y="303.19" width="2.95" height="8.8"/>
<rect x="60.98" y="303.19" width="2.95" height="8.8"/>
<rect x="64.4" y="303.19" width="2.95" height="8.8"/>
<rect x="67.81" y="303.19" width="2.95" height="8.8"/>
<rect x="71.23" y="303.19" width="2.95" height="8.8"/>
<rect x="74.64" y="303.19" width="2.95" height="8.8"/>
<rect x="78.06" y="303.19" width="2.95" height="8.8"/>
<rect x="81.47" y="303.19" width="2.95" height="8.8"/>
<rect x="84.89" y="303.19" width="2.95" height="8.8"/>
<rect x="88.3" y="303.19" width="2.95" height="8.8"/>
<rect x="91.72" y="303.19" width="2.95" height="8.8"/>
<rect x="95.13" y="303.19" width="2.95" height="8.8"/>
<rect x="98.55" y="303.19" width="2.95" height="8.8"/>
<rect x="101.96" y="303.19" width="2.95" height="8.8"/>
<rect x="105.38" y="303.19" width="2.95" height="8.8"/>
<rect x="108.79" y="303.19" width="2.95" height="8.8"/>
<rect x="112.21" y="303.19" width="2.95" height="8.8"/>
<rect x="115.62" y="303.19" width="2.95" height="8.8"/>
<rect x="119.04" y="303.19" width="2.95" height="8.8"/>
<rect x="122.45" y="303.19" width="2.95" height="8.8"/>
<rect x="125.87" y="303.19" width="2.95" height="8.8"/>
<rect x="129.28" y="303.19" width="2.95" height="8.8"/>
<rect x="132.7" y="303.19" width="2.95" height="8.8"/>
<rect x="136.11" y="303.19" width="2.95" height="8.8"/>
<rect x="139.53" y="303.19" width="2.95" height="8.8"/>
<rect x="142.94" y="303.19" width="2.95" height="8.8"/>
<rect x="146.35" y="303.19" width="2.95" height="8.8"/>
<rect x="149.77" y="303.19" width="2.95" height="8.8"/>
<rect x="153.19" y="303.19" width="2.95" height="8.8"/>
<rect x="156.6" y="303.19" width="2.95" height="8.8"/>
<rect x="160.02" y="303.19" width="2.95" height="8.8"/>
<rect x="163.43" y="303.19" width="2.95" height="8.8"/>
<rect x="282.95" y="303.19" width="2.95" height="8.8"/>
<rect x="286.37" y="303.19" width="2.95" height="8.8"/>
<rect x="289.78" y="303.19" width="2.95" height="8.8"/>
<rect x="293.2" y="303.19" width="2.95" height="8.8"/>
<rect x="296.62" y="303.19" width="2.95" height="8.8"/>
<rect x="300.03" y="303.19" width="2.95" height="8.8"/>
<rect x="54.15" y="312.79" width="2.95" height="8.8"/>
<rect x="57.56" y="312.79" width="2.95" height="8.8"/>
<rect x="60.98" y="312.79" width="2.95" height="8.8"/>
<rect x="64.4" y="312.79" width="2.95" height="8.8"/>
<rect x="67.81" y="312.79" width="2.95" height="8.8"/>
<rect x="71.23" y="312.79" width="2.95" height="8.8"/>
<rect x="74.64" y="312.79" width="2.95" height="8.8"/>
<rect x="78.06" y="312.79" width="2.95" height="8.8"/>
<rect x="81.47" y="312.79" width="2.95" height="8.8"/>
<rect x="84.89" y="312.79" width="2.95" height="8.8"/>
<rect x="166.84" y="312.79" width="2.95" height="8.8"/>
<rect x="170.26" y="312.79" width="2.95" height="8.8"/>
<rect x="173.68" y="312.79" width="2.95" height="8.8"/>
<rect x="177.09" y="312.79" width="2.95" height="8.8"/>
<rect x="180.51" y="312.79" width="2.95" height="8.8"/>
<rect x="282.95" y="312.79" width="2.95" height="8.8"/>
<rect x="303.44" y="312.79" width="2.95" height="8.8"/>
<rect x="306.86" y="312.79" width="2.95" height="8.8"/>
<rect x="310.27" y="312.79" width="2.95" height="8.8"/>
<rect x="313.69" y="312.79" width="2.95" height="8.8"/>
<rect x="317.1" y="312.79" width="2.95" height="8.8"/>
<rect x="320.52" y="312.79" width="2.95" height="8.8"/>
<rect x="54.15" y="322.38" width="2.95" height="8.8"/>
<rect x="57.56" y="322.38" width="2.95" height="8.8"/>
<rect x="88.3" y="322.38" width="2.95" height="8.8"/>
<rect x="91.72" y="322.38" width="2.95" height="8.8"/>
<rect x="95.13" y="322.38" width="2.95" height="8.8"/>
<rect x="98.55" y="322.38" width="2.95" height="8.8"/>
<rect x="166.84" y="322.38" width="2.95" height="8.8"/>
<rect x="183.92" y="322.38" width="2.95" height="8.8"/>
<rect x="187.34" y="322.38" width="2.95" height="8.8"/>
<rect x="190.75" y="322.38" width="2.95" height="8.8"/>
<rect x="194.17" y="322.38" width="2.95" height="8.8"/>
<rect x="197.58" y="322.38" width="2.95" height="8.8"/>
<rect x="201" y="322.38" width="2.95" height="8.8"/>
<rect x="204.41" y="322.38" width="2.95" height="8.8"/>
<rect x="207.83" y="322.38" width="2.95" height="8.8"/>
<rect x="303.44" y="322.38" width="2.95" height="8.8"/>
<rect x="323.94" y="322.38" width="2.95" height="8.8"/>
<rect x="327.35" y="322.38" width="2.95" height="8.8"/>
<rect x="54.15" y="331.98" width="2.95" height="8.8"/>
<rect x="60.98" y="331.98" width="2.95" height="8.8"/>
<rect x="101.96" y="331.98" width="2.95" height="8.8"/>
<rect x="183.92" y="331.98" width="2.95" height="8.8"/>
<rect x="187.34" y="331.98" width="2.95" height="8.8"/>
<rect x="211.24" y="331.98" width="2.95" height="8.8"/>
<rect x="214.66" y="331.98" width="2.95" height="8.8"/>
<rect x="218.07" y="331.98" width="2.95" height="8.8"/>
<rect x="221.49" y="331.98" width="2.95" height="8.8"/>
<rect x="224.9" y="331.98" width="2.95" height="8.8"/>
<rect x="286.37" y="331.98" width="2.95" height="8.8"/>
<rect x="306.86" y="331.98" width="2.95" height="8.8"/>
<rect x="330.76" y="331.98" width="2.95" height="8.8"/>
<rect x="334.18" y="331.98" width="2.95" height="8.8"/>
<rect x="54.15" y="341.57" width="2.95" height="8.8"/>
<rect x="64.4" y="341.57" width="2.95" height="8.8"/>
<rect x="67.81" y="341.57" width="2.95" height="8.8"/>
<rect x="88.3" y="341.57" width="2.95" height="8.8"/>
<rect x="105.38" y="341.57" width="2.95" height="8.8"/>
<rect x="108.79" y="341.57" width="2.95" height="8.8"/>
<rect x="228.31" y="341.57" width="2.95" height="8.8"/>
<rect x="231.73" y="341.57" width="2.95" height="8.8"/>
<rect x="289.78" y="341.57" width="2.95" height="8.8"/>
<rect x="337.59" y="341.57" width="2.95" height="8.8"/>
<rect x="341.01" y="341.57" width="2.95" height="8.8"/>
<rect x="344.42" y="341.57" width="2.95" height="8.8"/>
<rect x="347.84" y="341.57" width="2.95" height="8.8"/>
<rect x="112.21" y="351.16" width="2.95" height="8.8"/>
<rect x="115.62" y="351.16" width="2.95" height="8.8"/>
<rect x="119.04" y="351.16" width="2.95" height="8.8"/>
<rect x="170.26" y="351.16" width="2.95" height="8.8"/>
<rect x="190.75" y="351.16" width="2.95" height="8.8"/>
<rect x="235.15" y="351.16" width="2.95" height="8.8"/>
<rect x="238.56" y="351.16" width="2.95" height="8.8"/>
<rect x="241.97" y="351.16" width="2.95" height="8.8"/>
<rect x="245.39" y="351.16" width="2.95" height="8.8"/>
<rect x="282.95" y="351.16" width="2.95" height="8.8"/>
<rect x="293.2" y="351.16" width="2.95" height="8.8"/>
<rect x="112.21" y="360.76" width="2.95" height="8.8"/>
<rect x="122.45" y="360.76" width="2.95" height="8.8"/>
<rect x="125.87" y="360.76" width="2.95" height="8.8"/>
<rect x="194.17" y="360.76" width="2.95" height="8.8"/>
<rect x="248.81" y="360.76" width="2.95" height="8.8"/>
<rect x="252.22" y="360.76" width="2.95" height="8.8"/>
<rect x="282.95" y="360.76" width="2.95" height="8.8"/>
<rect x="303.44" y="360.76" width="2.95" height="8.8"/>
<rect x="337.59" y="360.76" width="2.95" height="8.8"/>
<rect x="351.25" y="360.76" width="2.95" height="8.8"/>
<rect x="54.15" y="370.35" width="2.95" height="8.8"/>
<rect x="71.23" y="370.35" width="2.95" height="8.8"/>
<rect x="129.28" y="370.35" width="2.95" height="8.8"/>
<rect x="173.68" y="370.35" width="2.95" height="8.8"/>
<rect x="194.17" y="370.35" width="2.95" height="8.8"/>
<rect x="255.64" y="370.35" width="2.95" height="8.8"/>
<rect x="303.44" y="370.35" width="2.95" height="8.8"/>
<rect x="354.67" y="370.35" width="2.95" height="8.8"/>
<rect x="358.08" y="370.35" width="2.95" height="8.8"/>
<rect x="282.95" y="379.95" width="2.95" height="8.8"/>
<rect x="286.37" y="379.95" width="2.95" height="8.8"/>
<rect x="310.27" y="379.95" width="2.95" height="8.8"/>
<rect x="341.01" y="379.95" width="2.95" height="8.8"/>
<rect x="361.5" y="379.95" width="2.95" height="8.8"/>
<rect x="364.91" y="379.95" width="2.95" height="8.8"/>
<rect x="368.33" y="379.95" width="2.95" height="8.8"/>
<rect x="371.75" y="379.95" width="2.95" height="8.8"/>
<rect x="289.78" y="389.54" width="2.95" height="8.8"/>
<rect x="310.27" y="389.54" width="2.95" height="8.8"/>
<rect x="344.42" y="389.54" width="2.95" height="8.8"/>
<rect x="361.5" y="389.54" width="2.95" height="8.8"/>
<rect x="375.16" y="389.54" width="2.95" height="8.8"/>
<rect x="378.57" y="389.54" width="2.95" height="8.8"/>
<rect x="381.99" y="389.54" width="2.95" height="8.8"/>
<rect x="310.27" y="399.13" width="2.95" height="8.8"/>
<rect x="341.01" y="399.13" width="2.95" height="8.8"/>
<rect x="364.91" y="399.13" width="2.95" height="8.8"/>
<rect x="375.16" y="399.13" width="2.95" height="8.8"/>
<rect x="385.4" y="399.13" width="2.95" height="8.8"/>
<rect x="388.82" y="399.13" width="2.95" height="8.8"/>
<rect x="392.23" y="399.13" width="2.95" height="8.8"/>
<rect x="177.09" y="408.73" width="2.95" height="8.8"/>
<rect x="197.58" y="408.73" width="2.95" height="8.8"/>
<rect x="317.1" y="408.73" width="2.95" height="8.8"/>
<rect x="361.5" y="408.73" width="2.95" height="8.8"/>
<rect x="378.57" y="408.73" width="2.95" height="8.8"/>
<rect x="381.99" y="408.73" width="2.95" height="8.8"/>
<rect x="64.4" y="418.32" width="2.95" height="8.8"/>
<rect x="71.23" y="418.32" width="2.95" height="8.8"/>
<rect x="132.7" y="418.32" width="2.95" height="8.8"/>
<rect x="201" y="418.32" width="2.95" height="8.8"/>
<rect x="378.57" y="418.32" width="2.95" height="8.8"/>
<rect x="395.65" y="418.32" width="2.95" height="8.8"/>
<rect x="74.64" y="427.92" width="2.95" height="8.8"/>
<rect x="136.11" y="427.92" width="2.95" height="8.8"/>
<rect x="310.27" y="427.92" width="2.95" height="8.8"/>
<rect x="313.69" y="427.92" width="2.95" height="8.8"/>
<rect x="368.33" y="427.92" width="2.95" height="8.8"/>
<rect x="115.62" y="437.51" width="2.95" height="8.8"/>
<rect x="201" y="437.51" width="2.95" height="8.8"/>
<rect x="228.31" y="437.51" width="2.95" height="8.8"/>
<rect x="259.05" y="437.51" width="2.95" height="8.8"/>
<rect x="385.4" y="437.51" width="2.95" height="8.8"/>
<rect x="194.17" y="447.1" width="2.95" height="8.8"/>
<rect x="211.24" y="447.1" width="2.95" height="8.8"/>
<rect x="313.69" y="447.1" width="2.95" height="8.8"/>
<rect x="330.76" y="447.1" width="2.95" height="8.8"/>
<rect x="344.42" y="447.1" width="2.95" height="8.8"/>
<rect x="214.66" y="456.7" width="2.95" height="8.8"/>
<rect x="218.07" y="456.7" width="2.95" height="8.8"/>
<rect x="289.78" y="456.7" width="2.95" height="8.8"/>
<rect x="347.84" y="456.7" width="2.95" height="8.8"/>
<rect x="361.5" y="456.7" width="2.95" height="8.8"/>
<rect x="286.37" y="466.29" width="2.95" height="8.8"/>
<rect x="313.69" y="466.29" width="2.95" height="8.8"/>
<rect x="330.76" y="466.29" width="2.95" height="8.8"/>
<rect x="334.18" y="466.29" width="2.95" height="8.8"/>
<rect x="361.5" y="466.29" width="2.95" height="8.8"/>
</g>
<text x="46.6" y="301" font-size="7" text-anchor="end" font-style="italic" >NPM1</text>
<rect x="432.6" y="293.7" width="80.6" height="7.2" fill="#000" />
<text x="429.8" y="300.7" font-size="7" text-anchor="end" >63</text>
<text x="46.6" y="310.59" font-size="7" text-anchor="end" font-style="italic" >DNMT3A</text>
<rect x="432.6" y="303.29" width="46.92" height="7.2" fill="#000" />
<text x="429.8" y="310.29" font-size="7" text-anchor="end" >37</text>
<text x="46.6" y="320.19" font-size="7" text-anchor="end" font-style="italic" >NRAS</text>
<rect x="432.6" y="312.89" width="26.47" height="7.2" fill="#000" />
<text x="429.8" y="319.89" font-size="7" text-anchor="end" >21</text>
<text x="46.6" y="329.78" font-size="7" text-anchor="end" font-style="italic" >FLT3-ITD</text>
<rect x="432.6" y="322.48" width="21.65" height="7.2" fill="#000" />
<text x="429.8" y="329.48" font-size="7" text-anchor="end" >17</text>
<text x="46.6" y="339.38" font-size="7" text-anchor="end" font-style="italic" >IDH2</text>
<rect x="432.6" y="332.08" width="16.84" height="7.2" fill="#000" />
<text x="429.8" y="339.08" font-size="7" text-anchor="end" >13</text>
<text x="46.6" y="348.97" font-size="7" text-anchor="end" font-style="italic" >TET2</text>
<rect x="432.6" y="341.67" width="15.64" height="7.2" fill="#000" />
<text x="429.8" y="348.67" font-size="7" text-anchor="end" >12</text>
<text x="46.6" y="358.56" font-size="7" text-anchor="end" font-style="italic" >IDH1</text>
<rect x="432.6" y="351.26" width="13.23" height="7.2" fill="#000" />
<text x="429.8" y="358.26" font-size="7" text-anchor="end" >10</text>
<text x="46.6" y="368.16" font-size="7" text-anchor="end" font-style="italic" >FLT3-TKD</text>
<rect x="432.6" y="360.86" width="12.03" height="7.2" fill="#000" />
<text x="429.8" y="367.86" font-size="7" text-anchor="end" >9</text>
<text x="46.6" y="377.75" font-size="7" text-anchor="end" font-style="italic" >WT1</text>
<rect x="432.6" y="370.45" width="10.83" height="7.2" fill="#000" />
<text x="429.8" y="377.45" font-size="7" text-anchor="end" >8</text>
<text x="46.6" y="387.35" font-size="7" text-anchor="end" font-style="italic" >BCOR</text>
<rect x="432.6" y="380.05" width="9.62" height="7.2" fill="#000" />
<text x="429.8" y="387.05" font-size="7" text-anchor="end" >8</text>
<text x="46.6" y="396.94" font-size="7" text-anchor="end" font-style="italic" >RUNX1</text>
<rect x="432.6" y="389.64" width="8.42" height="7.2" fill="#000" />
<text x="429.8" y="396.64" font-size="7" text-anchor="end" >7</text>
<text x="46.6" y="406.53" font-size="7" text-anchor="end" font-style="italic" >SF3B1</text>
<rect x="432.6" y="399.23" width="8.42" height="7.2" fill="#000" />
<text x="429.8" y="406.23" font-size="7" text-anchor="end" >7</text>
<text x="46.6" y="416.13" font-size="7" text-anchor="end" font-style="italic" >ASXL1</text>
<rect x="432.6" y="408.83" width="7.22" height="7.2" fill="#000" />
<text x="429.8" y="415.83" font-size="7" text-anchor="end" >6</text>
<text x="46.6" y="425.72" font-size="7" text-anchor="end" font-style="italic" >NOTCH1</text>
<rect x="432.6" y="418.42" width="7.22" height="7.2" fill="#000" />
<text x="429.8" y="425.42" font-size="7" text-anchor="end" >6</text>
<text x="46.6" y="435.32" font-size="7" text-anchor="end" font-style="italic" >KRAS</text>
<rect x="432.6" y="428.02" width="6.02" height="7.2" fill="#000" />
<text x="429.8" y="435.02" font-size="7" text-anchor="end" >5</text>
<text x="46.6" y="444.91" font-size="7" text-anchor="end" font-style="italic" >RAD21</text>
<rect x="432.6" y="437.61" width="6.02" height="7.2" fill="#000" />
<text x="429.8" y="444.61" font-size="7" text-anchor="end" >5</text>
<text x="46.6" y="454.5" font-size="7" text-anchor="end" font-style="italic" >CUX1</text>
<rect x="432.6" y="447.2" width="6.02" height="7.2" fill="#000" />
<text x="429.8" y="454.2" font-size="7" text-anchor="end" >5</text>
<text x="46.6" y="464.1" font-size="7" text-anchor="end" font-style="italic" >SRSF2</text>
<rect x="432.6" y="456.8" width="6.02" height="7.2" fill="#000" />
<text x="429.8" y="463.8" font-size="7" text-anchor="end" >5</text>
<text x="46.6" y="473.69" font-size="7" text-anchor="end" font-style="italic" >STAG2</text>
<rect x="432.6" y="466.39" width="6.02" height="7.2" fill="#000" />
<text x="429.8" y="473.39" font-size="7" text-anchor="end" >5</text>
<text class="ft" x="43.2" y="485.0" font-size="6.3" textLength="380" lengthAdjust="spacingAndGlyphs">Genes with &lt;5% mutation rate: <tspan font-style="italic">c-KIT</tspan> (4%), <tspan font-style="italic">PHF6</tspan> (4%), <tspan font-style="italic">CEBPA</tspan> (3%), <tspan font-style="italic">SMC3</tspan> (3%), <tspan font-style="italic">IKZF1</tspan>(3%), <tspan font-style="italic">TP53</tspan> (3%), <tspan font-style="italic">BCORL1</tspan> (3%), <tspan font-style="italic">CSF3R</tspan> (2%),</text>
<text class="ft" x="73.4" y="493.0" font-size="6.3" textLength="319.6" lengthAdjust="spacingAndGlyphs"><tspan font-style="italic">EZH2</tspan> (2%), <tspan font-style="italic">GATA2</tspan> (2%), <tspan font-style="italic">SMC1A</tspan> (2%), <tspan font-style="italic">U2AF1</tspan> (1%), <tspan font-style="italic">ETV6</tspan> (1%), <tspan font-style="italic">BRAF</tspan> (1%), <tspan font-style="italic">CBL</tspan> (1%), <tspan font-style="italic">CBLB</tspan> (1%), <tspan font-style="italic">JAK2</tspan> (1%),</text>
<rect x="0.5" y="0.5" width="519" height="500" fill="none" stroke="#000" stroke-width="1"/>
</svg>
</body></html>
